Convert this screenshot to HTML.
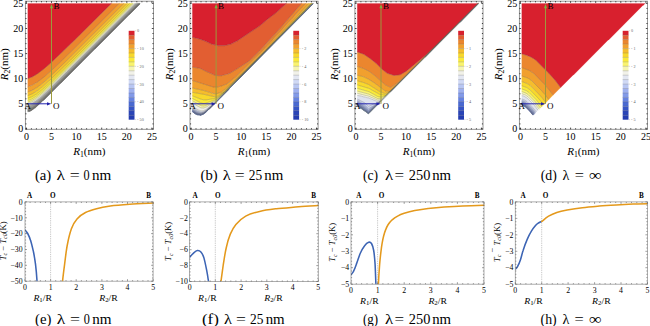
<!DOCTYPE html>
<html><head><meta charset="utf-8"><title>Figure</title>
<style>html,body{margin:0;padding:0;background:#fff;width:650px;height:326px;overflow:hidden}svg{display:block;font-family:"Liberation Serif",serif}</style>
</head><body><svg width="650" height="326" viewBox="0 0 650 326" font-family='&quot;Liberation Serif&quot;, serif'><clipPath id="tc0"><rect x="25.9" y="1.7" width="127.1" height="127.1"/></clipPath><g clip-path="url(#tc0)"><path d="M28.2 111.6L29 111.2L29.8 111.2L31.3 110.4L33.3 108.8L33.6 108.8L34.8 107.7L35.2 107.7L37.5 105.3L35.6 107L31.3 110L27.8 111.3L27.8 111.6ZM37.9 105.3L41 102.1L37.5 105.3ZM43 100.6L52.3 91.1L42.6 100.6ZM60.5 83.3L81.5 61.9L60.2 83.3ZM94.7 49L116.1 27.3L94.4 49ZM129.3 14.4L140.2 3.4L137.3 6.2L129 14.4Z" fill="#6e6e66" stroke="#6e6e66" stroke-width="0.25"/><path d="M28.2 111.2L30.9 110.2L34 108.2L37.9 105L43.8 99.5L140 3.4L139.7 3.4L136.3 6.7L44.1 98.7L35.2 106.9L31.1 109.6L27.8 110.8L27.8 111.3Z" fill="#75756d" stroke="#75756d" stroke-width="0.25"/><path d="M27.8 110.8L30.9 109.7L34 107.7L37.9 104.5L43.8 99.1L139.7 3.4L139.3 3.4L44.5 97.9L34.8 106.7L30.9 109.2L27.8 110.3Z" fill="#7f7f77" stroke="#7f7f77" stroke-width="0.25"/><path d="M28.2 110.2L30.9 109.2L34.4 107L38.3 103.7L44.5 97.9L139.3 3.4L138.9 3.4L45 97L35.6 105.5L31.7 108.2L27.8 109.7L27.8 110.3Z" fill="#898981" stroke="#898981" stroke-width="0.25"/><path d="M28.2 109.6L31.3 108.4L34.8 106.1L39.1 102.6L44.9 97.1L138.9 3.4L138.4 3.4L45.7 95.9L35.6 104.9L31.7 107.5L27.8 109.1L27.8 109.7Z" fill="#93938b" stroke="#93938b" stroke-width="0.25"/><path d="M28.2 109L31.7 107.5L35.1 105.3L39.5 101.7L45.3 96.2L138.4 3.4L137.9 3.4L46.5 94.6L36.4 103.7L31.7 106.9L27.8 108.5L27.8 109.1Z" fill="#9d9d95" stroke="#9d9d95" stroke-width="0.25"/><path d="M27.9 108.4L30.9 107.3L35.2 104.6L39.6 101L46.1 94.9L137.9 3.4L137.3 3.4L46.5 93.9L36.4 103L31.7 106.1L27.8 107.7Z" fill="#a6a69e" stroke="#a6a69e" stroke-width="0.25"/><path d="M28 107.7L31.7 106.1L35.6 103.6L40.3 99.7L46.5 93.9L137.3 3.4L136.7 3.4L47.5 92.3L36.9 101.8L31.7 105.3L27.8 106.9L27.8 107.7Z" fill="#b0b0a8" stroke="#b0b0a8" stroke-width="0.25"/><path d="M27.8 106.9L31.3 105.5L35.4 102.9L40.6 98.6L47.3 92.5L136.6 3.4L136 3.4L48.3 90.7L37.1 100.7L32.1 104.2L27.8 105.9Z" fill="#babab2" stroke="#babab2" stroke-width="0.25"/><path d="M28.2 105.8L32.1 104.2L36.3 101.4L41.4 97.1L48.4 90.6L135.9 3.4L135.2 3.4L49 89.2L41.8 95.9L36 100.6L31.7 103.3L27.8 104.9L27.8 105.9Z" fill="#c4c4bc" stroke="#c4c4bc" stroke-width="0.25"/><path d="M28.2 104.8L31.7 103.3L36 100.6L41.4 96.1L48.4 89.7L135.1 3.4L134.4 3.4L134.1 3.4L49.5 87.6L41.8 94.7L36.4 99.1L31.7 102.1L27.8 103.6L27.8 104.9Z" fill="#f1f1e9" stroke="#f1f1e9" stroke-width="0.25"/><path d="M28.2 103.5L32.1 101.9L36.4 99.1L41.8 94.7L48.7 88.4L66.7 70.7L134.1 3.4L133.6 3.4L132.9 3.4L68.3 67.9L49.9 86L42.6 92.7L36.8 97.5L31.9 100.6L27.8 102.2L27.8 103.6Z" fill="#f6f5b3" stroke="#f6f5b3" stroke-width="0.25"/><path d="M27.9 102.1L31.9 100.6L36.4 97.8L41.8 93.4L48.8 87L94.7 41.6L132.9 3.4L132.4 3.4L131.4 3.4L69.6 65.2L50 84.4L42.6 91.1L36.8 95.8L32.1 98.8L27.8 100.4Z" fill="#f9f36f" stroke="#f9f36f" stroke-width="0.25"/><path d="M28.2 100.3L32.4 98.6L36.8 95.8L42.6 91.1L50 84.4L69.6 65.2L131.4 3.4L130.9 3.4L129.6 3.4L71 62L50.8 81.7L43 88.8L37.1 93.5L32.1 96.6L27.8 98.3L27.8 100.4Z" fill="#faea3a" stroke="#faea3a" stroke-width="0.25"/><path d="M28.1 98.2L32.1 96.6L37.1 93.5L43 88.8L50.4 82.1L70.6 62.4L129.6 3.4L128.9 3.4L127.3 3.4L69 61.6L48.2 81.7L41.4 87.6L36.4 91.4L31.7 94.1L27.8 95.6L27.8 98.3Z" fill="#f8d82c" stroke="#f8d82c" stroke-width="0.25"/><path d="M28.2 95.5L32.5 93.7L37.5 90.6L43.7 85.6L51.1 79L71 59.7L127.3 3.4L126.6 3.4L124.1 3.4L68.9 58.5L48 78.5L41.5 84.1L36.4 87.8L32.1 90.4L27.8 92L27.8 95.6Z" fill="#f5bd2d" stroke="#f5bd2d" stroke-width="0.25"/><path d="M28.1 91.9L32.9 90L37.9 86.8L43.9 82.1L51.8 75L66.9 60.4L95.8 31.7L124.1 3.4L123.5 3.4L119.4 3.4L68.1 54.5L55.9 66.3L47.2 74.2L41.1 79.3L36.1 82.9L31.7 85.4L27.8 86.9L27.8 92Z" fill="#f1a02e" stroke="#f1a02e" stroke-width="0.25"/><path d="M28 86.8L32.8 84.8L37.9 81.7L44.1 76.9L51.9 70L64.1 58.5L84 38.8L119.4 3.4L118.8 3.4L111.4 3.4L69.9 44.7L50.8 62.8L43.5 69.1L37.5 73.6L32.5 76.7L27.8 78.6L27.8 86.9Z" fill="#eb862e" stroke="#eb862e" stroke-width="0.25"/><path d="M27.9 78.5L32.5 76.7L37.8 73.4L44 68.7L51.2 62.4L74.7 40L111.4 3.4L111.1 3.4L27.8 3.4Z" fill="#d8202e" stroke="#d8202e" stroke-width="0.25"/><path d="M27.8 111.3L29.8 110.7L32.1 109.5L37.5 105.3M37.5 105.3L41.9 101.3M42.6 100.6L55.7 87.7M60.2 83.3L88.6 54.8M94.4 49L123.3 20.1M129 14.4L140 3.4M27.8 110.8L30.5 109.9L33.6 108L37.5 104.9L43.4 99.5L139.7 3.4M27.8 110.3L30.9 109.2L34 107.2L37.9 104.1L43.8 98.7L139.3 3.4M27.8 109.7L31.2 108.4L34.4 106.4L44.1 97.9L138.9 3.4M27.8 109.1L31.3 107.8L34.6 105.7L39.1 102L44.9 96.6L138.4 3.4M27.8 108.5L30.9 107.3L34.8 104.9L39.1 101.4L45.1 95.9L137.9 3.4M27.8 107.7L31.3 106.3L35.2 103.9L39.5 100.4L45.3 95.1L137.3 3.4M27.8 106.9L31 105.7L34.8 103.3L39.9 99.3L46.1 93.6L136.6 3.4M27.8 105.9L31.3 104.6L35.2 102.1L40.3 98.1L46.9 92.1L135.9 3.4M27.8 104.9L31.7 103.3L35.6 100.9L40.4 97L46.9 91.1L65.8 72.6L135.1 3.4M27.8 103.6L31.7 102.1L36 99.4L41.4 95.1L47.9 89.2L66 71.5L134.1 3.4M27.8 102.2L31.7 100.7L36.3 97.8L41.4 93.7L48.2 87.6L66.7 69.5L132.9 3.4M27.8 100.4L31.7 99L36.4 96.1L41.8 91.8L48.8 85.5L68.4 66.3L131.4 3.4M27.8 98.3L32.1 96.6L36.8 93.8L42.6 89.2L49.6 82.9L69.8 63.2L129.6 3.4M27.8 95.6L32.1 93.9L36.8 91.1L42.6 86.6L50 80L70.6 60.1L127.3 3.4M27.8 92L32.1 90.3L37.3 87.2L43.4 82.5L50.5 76.2L70.9 56.5L124.1 3.4M27.8 86.9L32.1 85.2L37.3 82.1L43.4 77.5L50.8 71.1L71.3 51.4L119.4 3.4M27.8 78.6L32.5 76.7L37.5 73.6L43.5 69.1L50.8 62.8L69.9 44.7L111.4 3.4" fill="none" stroke="#505050" stroke-opacity="0.45" stroke-width="0.55"/><path d="M28.8 111.6L31.3 110.6L33.3 109L33.6 109L34.8 107.9L35.2 107.9L42.6 100.8L43 100.8L139.8 4" fill="none" stroke="#6a6a6a" stroke-width="0.8" stroke-linejoin="round"/></g><line x1="51.5" y1="103.8" x2="51.5" y2="6.4" stroke="#9c9a3c" stroke-width="1"/><path d="M51.5 4 l-1.6 4.2 h3.2z" fill="#7cb040"/><line x1="26.4" y1="103.8" x2="48.5" y2="103.8" stroke="#2626b0" stroke-width="1"/><path d="M51.2 103.8 l-4.2 -1.6 v3.2z" fill="#2020a8"/><rect x="25.4" y="1.2" width="128.1" height="128.1" fill="none" stroke="#8a8a8a" stroke-width="0.9"/><path d="M26.4 129.3v-1.7M26.4 1.2v1.7M25.4 128.9h1.7M153.5 128.9h-1.7M31.4 129.3v-1.1M31.4 1.2v1.1M25.4 123.9h1.1M153.5 123.9h-1.1M36.4 129.3v-1.1M36.4 1.2v1.1M25.4 118.9h1.1M153.5 118.9h-1.1M41.5 129.3v-1.1M41.5 1.2v1.1M25.4 113.8h1.1M153.5 113.8h-1.1M46.5 129.3v-1.1M46.5 1.2v1.1M25.4 108.8h1.1M153.5 108.8h-1.1M51.5 129.3v-1.7M51.5 1.2v1.7M25.4 103.8h1.7M153.5 103.8h-1.7M56.5 129.3v-1.1M56.5 1.2v1.1M25.4 98.8h1.1M153.5 98.8h-1.1M61.5 129.3v-1.1M61.5 1.2v1.1M25.4 93.8h1.1M153.5 93.8h-1.1M66.6 129.3v-1.1M66.6 1.2v1.1M25.4 88.7h1.1M153.5 88.7h-1.1M71.6 129.3v-1.1M71.6 1.2v1.1M25.4 83.7h1.1M153.5 83.7h-1.1M76.6 129.3v-1.7M76.6 1.2v1.7M25.4 78.7h1.7M153.5 78.7h-1.7M81.6 129.3v-1.1M81.6 1.2v1.1M25.4 73.7h1.1M153.5 73.7h-1.1M86.6 129.3v-1.1M86.6 1.2v1.1M25.4 68.7h1.1M153.5 68.7h-1.1M91.7 129.3v-1.1M91.7 1.2v1.1M25.4 63.6h1.1M153.5 63.6h-1.1M96.7 129.3v-1.1M96.7 1.2v1.1M25.4 58.6h1.1M153.5 58.6h-1.1M101.7 129.3v-1.7M101.7 1.2v1.7M25.4 53.6h1.7M153.5 53.6h-1.7M106.7 129.3v-1.1M106.7 1.2v1.1M25.4 48.6h1.1M153.5 48.6h-1.1M111.7 129.3v-1.1M111.7 1.2v1.1M25.4 43.6h1.1M153.5 43.6h-1.1M116.8 129.3v-1.1M116.8 1.2v1.1M25.4 38.5h1.1M153.5 38.5h-1.1M121.8 129.3v-1.1M121.8 1.2v1.1M25.4 33.5h1.1M153.5 33.5h-1.1M126.8 129.3v-1.7M126.8 1.2v1.7M25.4 28.5h1.7M153.5 28.5h-1.7M131.8 129.3v-1.1M131.8 1.2v1.1M25.4 23.5h1.1M153.5 23.5h-1.1M136.8 129.3v-1.1M136.8 1.2v1.1M25.4 18.5h1.1M153.5 18.5h-1.1M141.9 129.3v-1.1M141.9 1.2v1.1M25.4 13.4h1.1M153.5 13.4h-1.1M146.9 129.3v-1.1M146.9 1.2v1.1M25.4 8.4h1.1M153.5 8.4h-1.1M151.9 129.3v-1.7M151.9 1.2v1.7M25.4 3.4h1.7M153.5 3.4h-1.7" stroke="#000" stroke-width="0.7"/><text x="26.4" y="140.2" font-size="10" text-anchor="middle" >0</text><text x="23.2" y="132.3" font-size="10" text-anchor="end" >0</text><text x="51.5" y="140.2" font-size="10" text-anchor="middle" >5</text><text x="23.2" y="107.2" font-size="10" text-anchor="end" >5</text><text x="76.6" y="140.2" font-size="10" text-anchor="middle" >10</text><text x="23.2" y="82.1" font-size="10" text-anchor="end" >10</text><text x="101.7" y="140.2" font-size="10" text-anchor="middle" >15</text><text x="23.2" y="57" font-size="10" text-anchor="end" >15</text><text x="126.8" y="140.2" font-size="10" text-anchor="middle" >20</text><text x="23.2" y="31.9" font-size="10" text-anchor="end" >20</text><text x="151.9" y="140.2" font-size="10" text-anchor="middle" >25</text><text x="23.2" y="6.8" font-size="10" text-anchor="end" >25</text><text x="73.2" y="155" font-size="11" textLength="32.4" lengthAdjust="spacingAndGlyphs"><tspan font-style="italic">R</tspan><tspan font-size="7.6" dy="2">1</tspan><tspan dy="-2">(nm)</tspan></text><text transform="translate(8.4,64.3) rotate(-90)" font-size="11" textLength="32" lengthAdjust="spacingAndGlyphs" x="-16"><tspan font-style="italic">R</tspan><tspan font-size="7.6" dy="2">2</tspan><tspan dy="-2">(nm)</tspan></text><text x="27.8" y="108.7" font-size="9" text-anchor="middle" >A</text><text x="56.2" y="108.9" font-size="9" text-anchor="middle" >O</text><text x="56.4" y="8.9" font-size="9" text-anchor="middle" >B</text><rect x="128.7" y="30.8" width="5.8" height="4.5" fill="#d8202e"/><rect x="128.7" y="35.2" width="5.8" height="4.5" fill="#e25e32"/><rect x="128.7" y="39.7" width="5.8" height="4.5" fill="#eb862e"/><rect x="128.7" y="44.1" width="5.8" height="4.5" fill="#f1a02e"/><rect x="128.7" y="48.6" width="5.8" height="4.5" fill="#f5bd2d"/><rect x="128.7" y="53" width="5.8" height="4.5" fill="#f8d82c"/><rect x="128.7" y="57.4" width="5.8" height="4.5" fill="#faea3a"/><rect x="128.7" y="61.9" width="5.8" height="4.5" fill="#f9f36f"/><rect x="128.7" y="66.3" width="5.8" height="4.5" fill="#f6f5b3"/><rect x="128.7" y="70.8" width="5.8" height="4.5" fill="#f1f1e9"/><rect x="128.7" y="75.2" width="5.8" height="4.5" fill="#e3e7f2"/><rect x="128.7" y="79.6" width="5.8" height="4.5" fill="#d0d9f5"/><rect x="128.7" y="84.1" width="5.8" height="4.5" fill="#b8c6f3"/><rect x="128.7" y="88.5" width="5.8" height="4.5" fill="#9eb0ef"/><rect x="128.7" y="93" width="5.8" height="4.5" fill="#829ae9"/><rect x="128.7" y="97.4" width="5.8" height="4.5" fill="#6682e0"/><rect x="128.7" y="101.8" width="5.8" height="4.5" fill="#4a69d2"/><rect x="128.7" y="106.3" width="5.8" height="4.5" fill="#3654c5"/><rect x="128.7" y="110.7" width="5.8" height="4.5" fill="#2a44b7"/><rect x="128.7" y="115.2" width="5.8" height="4.5" fill="#243cb0"/><path d="M128.7 35.2h5.8M128.7 39.7h5.8M128.7 44.1h5.8M128.7 48.6h5.8M128.7 53h5.8M128.7 57.4h5.8M128.7 61.9h5.8M128.7 66.3h5.8M128.7 70.8h5.8M128.7 75.2h5.8M128.7 79.6h5.8M128.7 84.1h5.8M128.7 88.5h5.8M128.7 93h5.8M128.7 97.4h5.8M128.7 101.8h5.8M128.7 106.3h5.8M128.7 110.7h5.8M128.7 115.2h5.8" stroke="#666" stroke-opacity="0.55" stroke-width="0.5"/><path d="M134.9 30.8h1" stroke="#999" stroke-width="0.4"/><text x="137.1" y="32.2" font-size="4.2" text-anchor="start" fill="#666">0</text><path d="M134.9 48.6h1" stroke="#999" stroke-width="0.4"/><text x="137.1" y="50" font-size="4.2" text-anchor="start" fill="#666">- 10</text><path d="M134.9 66.3h1" stroke="#999" stroke-width="0.4"/><text x="137.1" y="67.7" font-size="4.2" text-anchor="start" fill="#666">- 20</text><path d="M134.9 84.1h1" stroke="#999" stroke-width="0.4"/><text x="137.1" y="85.5" font-size="4.2" text-anchor="start" fill="#666">- 30</text><path d="M134.9 101.8h1" stroke="#999" stroke-width="0.4"/><text x="137.1" y="103.2" font-size="4.2" text-anchor="start" fill="#666">- 40</text><path d="M134.9 119.6h1" stroke="#999" stroke-width="0.4"/><text x="137.1" y="121" font-size="4.2" text-anchor="start" fill="#666">- 50</text><clipPath id="tc1"><rect x="190.5" y="1.7" width="127.1" height="127.1"/></clipPath><g clip-path="url(#tc1)"><path d="M199.8 115.1L201 115L199.6 114.9ZM197.5 114.7L198.2 114.7L197.9 114.6L197.1 114.4ZM196.3 114.3L196.7 114.2L195.9 114ZM202.9 114.3L203.1 114.1L202.9 114.2L202.6 114.3ZM195.5 114L195.9 114L193.2 112.1L192.4 111.7L192.4 112L193.6 112.4ZM205.2 112.8L205.6 112.4L205.2 112.7Z" fill="#6070b5" stroke="#6070b5" stroke-width="0.25"/><path d="M199.8 114.9L201 115L202.1 114.3L201 114.8L198.6 114.5L195.9 113.6L194 112.2L192.4 111.3L192.4 111.7L195.9 114L198.2 114.7ZM202.5 114.3L203.7 113.8L204.7 113L202.1 114.3Z" fill="#6577bc" stroke="#6577bc" stroke-width="0.25"/><path d="M201 114.8L203.7 113.7L206 112L208.3 109.7L206 111.8L203.7 113.5L201.4 114.4L200.6 114.5L198.6 114.2L196.3 113.4L193.2 111.3L192.4 110.9L192.4 111.3L196.3 113.8L198.6 114.5Z" fill="#6e80c2" stroke="#6e80c2" stroke-width="0.25"/><path d="M199.8 114.4L201.5 114.3L203.7 113.5L205.2 112.4L215.2 103.1L209.1 108.7L206 111.6L203.7 113.3L201 114.2L198.6 113.8L196.3 113L192.4 110.4L192.4 110.9L195.9 113.2L198.6 114.2Z" fill="#798bca" stroke="#798bca" stroke-width="0.25"/><path d="M199.4 114L201 114.2L203 113.6L206 111.6L215.2 103.1L222.2 95.9L216.1 102.1L206 111.4L203.7 113L201 113.8L198.6 113.4L195.9 112.3L192.4 109.8L192.4 110.4L195.9 112.8Z" fill="#8698d3" stroke="#8698d3" stroke-width="0.25"/><path d="M199.8 113.6L201 113.8L203.3 113.2L206 111.4L216.1 102.1L222.7 95.2L216.1 102L206 111.1L203.7 112.6L201 113.4L198.6 112.9L195.9 111.7L192.4 109.2L192.4 109.8L195.9 112.3L198.6 113.4Z" fill="#98a7dc" stroke="#98a7dc" stroke-width="0.25"/><path d="M200.2 113.2L201 113.4L203.3 112.8L206 111.1L216.1 102L241.1 76.2L306.4 10.1L241.1 76.2L216.5 101.4L206 110.8L203.7 112.2L201 112.8L198.6 112.2L196.3 111.1L192.4 108.4L192.4 109.2L195.9 111.7L198.6 112.9Z" fill="#aebae5" stroke="#aebae5" stroke-width="0.25"/><path d="M201 112.8L203.7 112.2L206 110.8L216.1 101.8L306.4 10L216.5 101.2L206.8 109.6L203.7 111.6L201 112.1L196.3 110.1L192.4 107.4L192.4 108.4L195.9 110.9L198.6 112.2Z" fill="#c7cfec" stroke="#c7cfec" stroke-width="0.25"/><path d="M201 112.1L203.7 111.6L206 110.3L216.5 101.2L306 10.2L216.1 101.3L206 109.5L203.3 110.7L201 110.9L198.6 110L195.9 108.5L192.4 106L192.4 107.4L195.9 109.9L198.6 111.3Z" fill="#dfe3ef" stroke="#dfe3ef" stroke-width="0.25"/><path d="M201 110.9L203.7 110.7L206 109.5L216.5 101L312.6 3.4L312.2 3.4L305.7 10.1L223.9 93.3L216.1 100.6L206.8 106.8L203.7 108L201 107.9L195.9 105.2L193.6 103.3L192.4 102.9L192.4 106L196.3 108.7Z" fill="#f1f1e9" stroke="#f1f1e9" stroke-width="0.25"/><path d="M201 107.9L203.7 108L206 107.2L215.7 100.9L218.9 98.1L223.9 93.3L264.4 52.3L303.8 12.1L312.2 3.4L305.2 10.3L264.4 52.1L223.9 92.9L216.5 99.7L206 105.5L203.7 106.1L201 105.7L192.4 100.8L192.4 102.9L193.6 103.3L195.9 105.2Z" fill="#f6f5b3" stroke="#f6f5b3" stroke-width="0.25"/><path d="M201.4 105.8L203.7 106.1L206 105.5L216.1 99.9L223.5 93.3L264.4 52.1L312 3.4L311.7 3.4L304.8 10.4L264.4 51.9L223.9 92.6L216.5 99.1L206 103.2L203.7 103.5L201 103L192.4 98.5L192.4 100.8L198.6 104.5Z" fill="#f9f36f" stroke="#f9f36f" stroke-width="0.25"/><path d="M202.9 103.4L206 103.2L216.1 99.3L223.5 93L264.4 51.9L311.7 3.4L311.3 3.4L304.1 10.9L264.4 51.8L241 75.2L223.9 92.2L216.5 98.2L206 99.9L203.7 99.8L201 99.2L192.4 95.8L192.4 98.5L201 103Z" fill="#faea3a" stroke="#faea3a" stroke-width="0.25"/><path d="M203.7 99.8L206 99.9L216.5 98.2L223.5 92.6L264.4 51.8L311.3 3.4L310.8 3.4L302.9 11.7L264 51.8L241.3 74.6L223.2 92.3L216.5 97L216.1 97.1L203.8 94.3L192.4 92.3L192.4 95.8L201 99.2Z" fill="#f8d82c" stroke="#f8d82c" stroke-width="0.25"/><path d="M216.1 97.1L216.5 97L223.6 91.9L248 67.9L269.4 46.3L310.8 3.4L309 3.4L295.6 17.6L264 51.2L231.3 83.7L221.6 92L216.1 93.9L213 93.4L204.1 90.6L192.4 88L192.4 92.3L203.8 94.3Z" fill="#f5bd2d" stroke="#f5bd2d" stroke-width="0.25"/><path d="M213.8 93.5L216.5 93.9L221.6 92L231.3 83.7L264.4 50.8L309 3.4L305.5 3.4L293.6 16.4L261.6 51.3L236.4 76L227 83.8L220.8 86.2L216.5 87.2L213.4 87L192.4 80.5L192.4 88L204.1 90.6Z" fill="#f1a02e" stroke="#f1a02e" stroke-width="0.25"/><path d="M216.1 87.2L221.6 86L227 83.8L236.4 76L262 50.9L305.5 3.4L301.4 3.4L288.3 18.7L279.9 28.6L262.8 47.5L259.5 51L248.8 61.2L236.7 69.1L229 73.7L221.2 75.7L215.7 75.5L207.6 72.1L200.2 68.4L192.4 67.1L192.4 80.5L213 87Z" fill="#eb862e" stroke="#eb862e" stroke-width="0.25"/><path d="M215.7 75.5L221.2 75.7L229.4 73.5L236.7 69.1L248.8 61.2L259.7 50.8L279.9 28.6L301.4 3.4L286.4 3.4L277.7 11.3L267.9 18.9L260.1 25.6L237.5 40.7L230.9 44.1L224.7 45.6L218.1 45.6L211.5 44L205.2 41.1L198.6 38.7L192.4 37.3L192.4 67.1L200.2 68.4L207.6 72.1Z" fill="#e25e32" stroke="#e25e32" stroke-width="0.25"/><path d="M218.1 45.6L224.7 45.6L230.9 44.1L237.5 40.7L260.1 25.6L267.9 18.9L276 12.8L286.4 3.4L260.9 3.4L192.4 3.4L192.4 37.3L198.6 38.7L205.2 41.1L211.5 44Z" fill="#d8202e" stroke="#d8202e" stroke-width="0.25"/><path d="M199.6 114.9L201.2 114.9M197.1 114.4L198.2 114.7M201.7 114.7L201.8 114.7M195.9 114L197 114.3M202.6 114.3L203.1 114.1M203.5 114L204.1 113.5M205.1 112.8L205.6 112.4M192.4 111.7L195.9 114M209 109.2L210.8 107.5M227.3 90.9L228.6 89.5M202.1 114.3L204.7 113M204.9 112.8L206.2 111.8M192.4 111.3L195.9 113.6L198.2 114.4L201 114.8L202.1 114.3M208.9 109.2L212.4 105.9M225.6 92.6L228.6 89.4M239.9 77.7L249.1 68.4M192.4 110.9L196.3 113.4L198.6 114.2L201 114.5L203.7 113.5L208.3 109.7M208.8 109.2L213.9 104.4M223.7 94.5L228.6 89.4M238.3 79.4L258.2 59.2M301.3 15.7L313.3 3.4M192.4 110.4L196.3 113L198.6 113.8L201.4 114.1L203.7 113.3L206 111.6L215.2 103.1M220.1 98.2L228.6 89.3M236.4 81.3L272.2 45M281 36.2L313.3 3.4M192.4 109.8L195.9 112.3L198.6 113.4L201 113.8L203.7 113L206 111.4L216.1 102.1L228.6 89.3M234 83.7L313.2 3.4M192.4 109.2L195.9 111.7L198.6 112.9L201 113.4L203.7 112.6L206 111.1L216.1 102L228.6 89.2M231 86.7L313.1 3.4M192.4 108.4L196.3 111.1L198.6 112.2L201 112.8L203.7 112.2L206.4 110.4L216.5 101.4L241.1 76.2L313 3.4M192.4 107.4L195.9 109.9L198.6 111.3L201 112.1L203.3 111.7L206 110.3L216.1 101.6L312.8 3.4M192.4 106L195.9 108.5L198.6 110L201 110.9L203.3 110.7L206 109.5L216.1 101.3L312.7 3.4M192.4 102.9L193.6 103.3L195.9 105.2L201 107.9L203.7 108L206.8 106.8L216.1 100.6L223.9 93.3L312.2 3.4M192.4 100.8L201 105.7L203.7 106.1L206 105.5L216.5 99.7L223.9 92.9L264.3 52.2L312 3.4M192.4 98.5L201 103L203.7 103.5L206 103.2L216.5 99.1L223.9 92.6L241.4 75L264.4 51.9L311.7 3.4M192.4 95.8L201 99.2L203.7 99.8L206 99.9L216.5 98.2L223.9 92.2L241.4 74.8L264.4 51.8L311.3 3.4M192.4 92.3L203.8 94.3L216.1 97.1L216.5 97L223.2 92.3L241.3 74.6L264.4 51.5L310.8 3.4M192.4 88L204.1 90.6L213 93.4L216.1 93.9L221.6 92L231.3 83.7L264 51.2L309 3.4M192.4 80.5L213.4 87L216.5 87.2L220.8 86.2L227 83.8L236.4 76L262 51L305.5 3.4M192.4 67.1L200.2 68.4L207.6 72.1L215.7 75.5L221.2 75.7L229 73.7L234.8 70.3L248.8 61.2L259.7 50.8L279.9 28.6L301.4 3.4M192.4 37.3L198.6 38.7L205.2 41.1L211.5 44L218.1 45.6L224.7 45.6L230.9 44.1L237.5 40.7L260.1 25.6L267.9 18.9L276 12.8L286.4 3.4" fill="none" stroke="#505050" stroke-opacity="0.45" stroke-width="0.55"/><path d="M193.6 112.6L196.3 114.5L197.1 114.5L197.5 114.9L199.4 114.9L199.8 115.3L201 115.3L202.1 114.5L202.9 114.5L204.9 113L205.2 113L208.7 109.4L209.1 109.4L220.6 97.8L228.8 89.6L228.8 89.2L313 4" fill="none" stroke="#5c6a8c" stroke-width="0.8" stroke-linejoin="round"/></g><line x1="216.1" y1="103.8" x2="216.1" y2="6.4" stroke="#9c9a3c" stroke-width="1"/><path d="M216.1 4 l-1.6 4.2 h3.2z" fill="#7cb040"/><line x1="191" y1="103.8" x2="213.1" y2="103.8" stroke="#2626b0" stroke-width="1"/><path d="M215.8 103.8 l-4.2 -1.6 v3.2z" fill="#2020a8"/><rect x="190" y="1.2" width="128.1" height="128.1" fill="none" stroke="#8a8a8a" stroke-width="0.9"/><path d="M191 129.3v-1.7M191 1.2v1.7M190 128.9h1.7M318.1 128.9h-1.7M196 129.3v-1.1M196 1.2v1.1M190 123.9h1.1M318.1 123.9h-1.1M201 129.3v-1.1M201 1.2v1.1M190 118.9h1.1M318.1 118.9h-1.1M206.1 129.3v-1.1M206.1 1.2v1.1M190 113.8h1.1M318.1 113.8h-1.1M211.1 129.3v-1.1M211.1 1.2v1.1M190 108.8h1.1M318.1 108.8h-1.1M216.1 129.3v-1.7M216.1 1.2v1.7M190 103.8h1.7M318.1 103.8h-1.7M221.1 129.3v-1.1M221.1 1.2v1.1M190 98.8h1.1M318.1 98.8h-1.1M226.1 129.3v-1.1M226.1 1.2v1.1M190 93.8h1.1M318.1 93.8h-1.1M231.2 129.3v-1.1M231.2 1.2v1.1M190 88.7h1.1M318.1 88.7h-1.1M236.2 129.3v-1.1M236.2 1.2v1.1M190 83.7h1.1M318.1 83.7h-1.1M241.2 129.3v-1.7M241.2 1.2v1.7M190 78.7h1.7M318.1 78.7h-1.7M246.2 129.3v-1.1M246.2 1.2v1.1M190 73.7h1.1M318.1 73.7h-1.1M251.2 129.3v-1.1M251.2 1.2v1.1M190 68.7h1.1M318.1 68.7h-1.1M256.3 129.3v-1.1M256.3 1.2v1.1M190 63.6h1.1M318.1 63.6h-1.1M261.3 129.3v-1.1M261.3 1.2v1.1M190 58.6h1.1M318.1 58.6h-1.1M266.3 129.3v-1.7M266.3 1.2v1.7M190 53.6h1.7M318.1 53.6h-1.7M271.3 129.3v-1.1M271.3 1.2v1.1M190 48.6h1.1M318.1 48.6h-1.1M276.3 129.3v-1.1M276.3 1.2v1.1M190 43.6h1.1M318.1 43.6h-1.1M281.4 129.3v-1.1M281.4 1.2v1.1M190 38.5h1.1M318.1 38.5h-1.1M286.4 129.3v-1.1M286.4 1.2v1.1M190 33.5h1.1M318.1 33.5h-1.1M291.4 129.3v-1.7M291.4 1.2v1.7M190 28.5h1.7M318.1 28.5h-1.7M296.4 129.3v-1.1M296.4 1.2v1.1M190 23.5h1.1M318.1 23.5h-1.1M301.4 129.3v-1.1M301.4 1.2v1.1M190 18.5h1.1M318.1 18.5h-1.1M306.5 129.3v-1.1M306.5 1.2v1.1M190 13.4h1.1M318.1 13.4h-1.1M311.5 129.3v-1.1M311.5 1.2v1.1M190 8.4h1.1M318.1 8.4h-1.1M316.5 129.3v-1.7M316.5 1.2v1.7M190 3.4h1.7M318.1 3.4h-1.7" stroke="#000" stroke-width="0.7"/><text x="191" y="140.2" font-size="10" text-anchor="middle" >0</text><text x="187.8" y="132.3" font-size="10" text-anchor="end" >0</text><text x="216.1" y="140.2" font-size="10" text-anchor="middle" >5</text><text x="187.8" y="107.2" font-size="10" text-anchor="end" >5</text><text x="241.2" y="140.2" font-size="10" text-anchor="middle" >10</text><text x="187.8" y="82.1" font-size="10" text-anchor="end" >10</text><text x="266.3" y="140.2" font-size="10" text-anchor="middle" >15</text><text x="187.8" y="57" font-size="10" text-anchor="end" >15</text><text x="291.4" y="140.2" font-size="10" text-anchor="middle" >20</text><text x="187.8" y="31.9" font-size="10" text-anchor="end" >20</text><text x="316.5" y="140.2" font-size="10" text-anchor="middle" >25</text><text x="187.8" y="6.8" font-size="10" text-anchor="end" >25</text><text x="237.8" y="155" font-size="11" textLength="32.4" lengthAdjust="spacingAndGlyphs"><tspan font-style="italic">R</tspan><tspan font-size="7.6" dy="2">1</tspan><tspan dy="-2">(nm)</tspan></text><text transform="translate(173,64.3) rotate(-90)" font-size="11" textLength="32" lengthAdjust="spacingAndGlyphs" x="-16"><tspan font-style="italic">R</tspan><tspan font-size="7.6" dy="2">2</tspan><tspan dy="-2">(nm)</tspan></text><text x="192.4" y="108.7" font-size="9" text-anchor="middle" >A</text><text x="220.8" y="108.9" font-size="9" text-anchor="middle" >O</text><text x="221" y="8.9" font-size="9" text-anchor="middle" >B</text><rect x="293.3" y="30.8" width="5.8" height="4.5" fill="#d8202e"/><rect x="293.3" y="35.2" width="5.8" height="4.5" fill="#e25e32"/><rect x="293.3" y="39.7" width="5.8" height="4.5" fill="#eb862e"/><rect x="293.3" y="44.1" width="5.8" height="4.5" fill="#f1a02e"/><rect x="293.3" y="48.6" width="5.8" height="4.5" fill="#f5bd2d"/><rect x="293.3" y="53" width="5.8" height="4.5" fill="#f8d82c"/><rect x="293.3" y="57.4" width="5.8" height="4.5" fill="#faea3a"/><rect x="293.3" y="61.9" width="5.8" height="4.5" fill="#f9f36f"/><rect x="293.3" y="66.3" width="5.8" height="4.5" fill="#f6f5b3"/><rect x="293.3" y="70.8" width="5.8" height="4.5" fill="#f1f1e9"/><rect x="293.3" y="75.2" width="5.8" height="4.5" fill="#e3e7f2"/><rect x="293.3" y="79.6" width="5.8" height="4.5" fill="#d0d9f5"/><rect x="293.3" y="84.1" width="5.8" height="4.5" fill="#b8c6f3"/><rect x="293.3" y="88.5" width="5.8" height="4.5" fill="#9eb0ef"/><rect x="293.3" y="93" width="5.8" height="4.5" fill="#829ae9"/><rect x="293.3" y="97.4" width="5.8" height="4.5" fill="#6682e0"/><rect x="293.3" y="101.8" width="5.8" height="4.5" fill="#4a69d2"/><rect x="293.3" y="106.3" width="5.8" height="4.5" fill="#3654c5"/><rect x="293.3" y="110.7" width="5.8" height="4.5" fill="#2a44b7"/><rect x="293.3" y="115.2" width="5.8" height="4.5" fill="#243cb0"/><path d="M293.3 35.2h5.8M293.3 39.7h5.8M293.3 44.1h5.8M293.3 48.6h5.8M293.3 53h5.8M293.3 57.4h5.8M293.3 61.9h5.8M293.3 66.3h5.8M293.3 70.8h5.8M293.3 75.2h5.8M293.3 79.6h5.8M293.3 84.1h5.8M293.3 88.5h5.8M293.3 93h5.8M293.3 97.4h5.8M293.3 101.8h5.8M293.3 106.3h5.8M293.3 110.7h5.8M293.3 115.2h5.8" stroke="#666" stroke-opacity="0.55" stroke-width="0.5"/><path d="M299.5 48.6h1" stroke="#999" stroke-width="0.4"/><text x="301.7" y="50" font-size="4.2" text-anchor="start" fill="#666">- 2</text><path d="M299.5 66.3h1" stroke="#999" stroke-width="0.4"/><text x="301.7" y="67.7" font-size="4.2" text-anchor="start" fill="#666">- 4</text><path d="M299.5 84.1h1" stroke="#999" stroke-width="0.4"/><text x="301.7" y="85.5" font-size="4.2" text-anchor="start" fill="#666">- 6</text><path d="M299.5 101.8h1" stroke="#999" stroke-width="0.4"/><text x="301.7" y="103.2" font-size="4.2" text-anchor="start" fill="#666">- 8</text><path d="M299.5 119.6h1" stroke="#999" stroke-width="0.4"/><text x="301.7" y="121" font-size="4.2" text-anchor="start" fill="#666">- 10</text><clipPath id="tc2"><rect x="355.4" y="1.7" width="127.1" height="127.1"/></clipPath><g clip-path="url(#tc2)"><path d="M368.2 113.6L368.6 113.6L371.7 110.4L368.6 113.4L367.5 112.8ZM367 112.8L367.4 112.8L366.4 112ZM365.5 111.6L365.9 111.6L359.3 106.8L357.3 105.4L357.7 106.1L359.3 106.9L360.4 108L362 108.8L363.1 110L364.7 110.8Z" fill="#5d6cb2" stroke="#5d6cb2" stroke-width="0.25"/><path d="M368.2 113.4L368.6 113.4L377.1 104.9L368.6 113.2L366.4 111.6L357.3 105L357.3 105.4Z" fill="#6070b5" stroke="#6070b5" stroke-width="0.25"/><path d="M368.6 113.2L379 103L368.4 112.8L360.4 106.6L357.3 104.5L357.3 105Z" fill="#6577bc" stroke="#6577bc" stroke-width="0.25"/><path d="M368.6 112.8L380.2 101.8L369.4 111.6L368.6 112.4L368.2 112.2L363.9 108.5L357.3 103.9L357.3 104.5Z" fill="#6e81c2" stroke="#6e81c2" stroke-width="0.25"/><path d="M368.6 112.4L380.9 101.1L370.1 110.4L368.6 111.8L368.2 111.7L363.9 107.8L357.3 103.3L357.3 103.9L363.5 108.2Z" fill="#798bca" stroke="#798bca" stroke-width="0.25"/><path d="M368.2 111.7L368.6 111.8L380.9 101.1L370.5 109.4L368.6 111.1L363.9 106.9L357.3 102.5L357.3 103.3L363.9 107.8Z" fill="#8698d3" stroke="#8698d3" stroke-width="0.25"/><path d="M368.2 110.9L368.6 111.1L381.3 100.7L370.5 108.6L368.6 110.1L364.3 106.2L357.3 101.6L357.3 102.5L364.3 107.2Z" fill="#98a7dc" stroke="#98a7dc" stroke-width="0.25"/><path d="M368.6 110.1L377.9 103.3L382 100L377.9 103L370.1 107.6L368.6 108.7L366.6 106.6L364.3 104.7L357.3 100.5L357.3 101.6L364.3 106.2Z" fill="#aebbe5" stroke="#aebbe5" stroke-width="0.25"/><path d="M368.6 108.7L374 105.1L377.9 103L382 100L383.5 98.4L382.1 99.8L377.9 102.5L370.9 105.1L368.6 106.2L366.6 104.2L364.7 102.8L357.3 99L357.3 100.5L364.3 104.7L366.6 106.6Z" fill="#c7d0ec" stroke="#c7d0ec" stroke-width="0.25"/><path d="M368.6 106.2L373.6 104L377.9 102.5L381.5 100.2L388 93.9L381.8 99.8L378.3 101.3L377.1 101.3L376.5 101L368.2 97.8L367 97.8L366.6 97.4L365.5 97.4L365.1 97L363.9 97L363.1 96.6L362 96.6L361.6 96.2L357.3 95.4L357.3 99L364.7 102.8L366.6 104.2Z" fill="#dfe3ef" stroke="#dfe3ef" stroke-width="0.25"/><path d="M376.8 101.1L378.3 101.3L381.8 99.8L390.2 91.7L385.3 96.3L381.8 99.2L377.9 100.2L373.6 98.3L368.6 96.2L357.3 93.3L357.3 95.4L361.6 96.2L362 96.6L363.1 96.6L363.9 97L365.1 97L365.5 97.4L366.6 97.4L367 97.8L368.2 97.8Z" fill="#f1f1e9" stroke="#f1f1e9" stroke-width="0.25"/><path d="M377.9 100.2L381.8 99.2L385.3 96.3L407.3 74.6L391.1 90.7L385.3 96L381.8 98.2L377.9 98.7L368.6 94.1L357.3 91.1L357.3 93.3L368.6 96.2Z" fill="#f6f5b3" stroke="#f6f5b3" stroke-width="0.25"/><path d="M377.9 98.7L382.2 98L385.3 96L391.1 90.7L440.9 40.9L394.3 87.6L391 90.7L385.3 95.7L381.8 96.8L379.9 96.9L377.9 96.6L369 91.7L357.3 88.3L357.3 91.1L368.6 94.1Z" fill="#f9f36f" stroke="#f9f36f" stroke-width="0.25"/><path d="M378.3 96.7L379.9 96.9L381.8 96.8L385.3 95.7L391 90.7L443.3 38.5L391.1 90.5L385.3 95.1L379.9 94.5L369 88.4L357.3 84.9L357.3 88.3L369 91.7Z" fill="#faea3a" stroke="#faea3a" stroke-width="0.25"/><path d="M384.1 95.1L385.3 95.1L391.1 90.5L458.7 23.1L406.7 75L391.1 90.4L389.2 91.9L385.3 93.7L379.9 91.6L368.6 84.5L363.1 82.4L357.3 80.8L357.3 84.9L369 88.4L379.9 94.5Z" fill="#f8d82c" stroke="#f8d82c" stroke-width="0.25"/><path d="M384.9 93.5L385.3 93.7L389.2 91.9L391.1 90.4L456.5 25.1L397 84.4L390.8 90.3L389.2 91.5L385.3 91L374.4 82.9L368.6 79.2L363.1 76.6L357.3 75.2L357.3 80.8L363.1 82.4L368.6 84.5L379.9 91.6Z" fill="#f5bd2d" stroke="#f5bd2d" stroke-width="0.25"/><path d="M386.5 91.1L389.2 91.5L390.8 90.3L414.9 66.7L470.5 11.3L478.2 3.4L453 28.5L417.2 64L400.5 80.1L397.8 82.5L391.1 87.4L390.8 87.5L385.3 84.8L374.4 75.3L369 71.2L363.1 68.3L357.3 66.3L357.3 75.2L363.1 76.6L368.6 79.2L374.4 82.9L385.3 91Z" fill="#f1a02e" stroke="#f1a02e" stroke-width="0.25"/><path d="M390.4 87.3L390.8 87.5L391.9 86.8L397.8 82.5L400.5 80.1L432 49.4L478.2 3.4L449.9 31.4L425 55.8L406.7 70.9L400.1 74.8L393.9 75.4L387.3 73.3L381.8 69L376.4 63.5L369.8 58.2L363.5 54.1L357.3 51.9L357.3 66.3L363.1 68.3L369 71.2L374.4 75.3L385.3 84.8Z" fill="#eb862e" stroke="#eb862e" stroke-width="0.25"/><path d="M392.7 75.1L393.9 75.4L400.1 74.8L406.3 71.2L424.6 56.1L436.3 44.9L478 3.4L442.9 3.4L357.3 3.4L357.3 51.9L363.9 54.3L370.1 58.5L376.4 63.5L381.8 69L387.3 73.3Z" fill="#d8202e" stroke="#d8202e" stroke-width="0.25"/><path d="M367.5 112.8L368.6 113.4L372.9 109.2M365.9 111.6L367.4 112.8M357.3 105.4L365.9 111.6M390.7 91.5L391.6 90.7M425.4 56.9L426.3 56M460 22.3L461 21.3M357.3 105L368.6 113.2L377.1 104.9M390.7 91.5L392.8 89.4M425.3 56.9L427.5 54.8M460 22.3L462.2 20.1M357.3 104.5L368.6 112.8L379 103M390.7 91.5L394.2 88M425.3 56.9L428.9 53.4M459.9 22.3L463.5 18.8M357.3 103.9L363.5 108.2L368.6 112.4L380.2 101.8M390.6 91.5L395.8 86.5M425.3 56.9L430.3 51.9M459.9 22.3L464.9 17.3M357.3 103.3L363.9 107.8L368.6 111.8L380.9 101.1M390.6 91.5L397.5 84.7M425.2 56.9L432 50.2M459.9 22.3L466.5 15.7M357.3 102.5L363.9 106.9L368.6 111.1L381.3 100.7M390.6 91.5L399.4 82.8M425.2 56.9L433.9 48.3M459.8 22.3L468.3 13.9M357.3 101.6L364.3 106.2L368.6 110.1L381.6 100.4M390.5 91.5L401.7 80.5M425.2 56.9L436.1 46.1M459.8 22.3L470.5 11.7M357.3 100.5L364.3 104.7L368.6 108.7L377.9 103L382 100M390.5 91.5L404.5 77.6M425.1 56.9L438.8 43.4M459.8 22.3L473.1 9.1M357.3 99L364.7 102.8L368.6 106.2L373.6 104L377.9 102.5L382.1 99.8L383.5 98.4M390.4 91.5L408.2 73.9M425.1 56.9L442.4 39.7M459.8 22.3L476.6 5.5M357.3 95.4L361.6 96.2L363.9 97L365.1 97L367 97.8L368.2 97.8L376 100.9L377.9 101.4L381.8 99.8L388 93.9M390.4 91.5L416.1 65.9M425.1 56.9L450.1 31.9M459.7 22.3L478.6 3.4M357.3 93.3L368.6 96.2L377.9 100.2L382.2 98.9L390.2 91.7M390.4 91.5L419.2 62.8M425.1 56.9L452.3 29.7M459.7 22.3L478.6 3.4M357.3 91.1L368.6 94.1L377.9 98.7L382.2 98L385.3 96L391.1 90.7L422.2 59.7M425 56.9L454.5 27.5M459.7 22.3L478.5 3.4M357.3 88.3L369 91.7L377.9 96.6L379.9 96.9L381.8 96.8L385.3 95.7L394.3 87.6L456.8 25.1M459.6 22.3L478.5 3.4M357.3 84.9L369 88.4L379.9 94.5L385.3 95.1L390.9 90.7L398.5 83.3L459.4 22.5M459.6 22.3L478.4 3.4M357.3 80.8L363.1 82.4L368.6 84.5L379.9 91.6L385.3 93.7L389.6 91.7L406.7 75L478.4 3.4M357.3 75.2L363.1 76.6L369 79.4L374.4 82.9L385.3 91L389.2 91.5L389.6 91.2L397 84.4L414.5 67.1L478.3 3.4M357.3 66.3L363.1 68.3L369 71.2L374.4 75.3L385.3 84.8L390.8 87.5L391.1 87.4L398.5 81.9L408.7 72.2L436.4 45.1L478.2 3.4M357.3 51.9L363.5 54.1L369.8 58.2L376.4 63.5L381.8 69L387.3 73.3L393.9 75.4L400.1 74.8L406.7 70.9L425 55.8L478 3.4" fill="none" stroke="#505050" stroke-opacity="0.45" stroke-width="0.55"/><path d="M358.3 106.5L360.4 108.2L362 109L363.1 110.2L365.9 111.8L367 113L368.6 113.8L478.3 4" fill="none" stroke="#7c8a8c" stroke-width="0.8" stroke-linejoin="round"/></g><line x1="381" y1="103.8" x2="381" y2="6.4" stroke="#9c9a3c" stroke-width="1"/><path d="M381 4 l-1.6 4.2 h3.2z" fill="#7cb040"/><line x1="355.9" y1="103.8" x2="378" y2="103.8" stroke="#2626b0" stroke-width="1"/><path d="M380.7 103.8 l-4.2 -1.6 v3.2z" fill="#2020a8"/><rect x="354.9" y="1.2" width="128.1" height="128.1" fill="none" stroke="#8a8a8a" stroke-width="0.9"/><path d="M355.9 129.3v-1.7M355.9 1.2v1.7M354.9 128.9h1.7M483 128.9h-1.7M360.9 129.3v-1.1M360.9 1.2v1.1M354.9 123.9h1.1M483 123.9h-1.1M365.9 129.3v-1.1M365.9 1.2v1.1M354.9 118.9h1.1M483 118.9h-1.1M371 129.3v-1.1M371 1.2v1.1M354.9 113.8h1.1M483 113.8h-1.1M376 129.3v-1.1M376 1.2v1.1M354.9 108.8h1.1M483 108.8h-1.1M381 129.3v-1.7M381 1.2v1.7M354.9 103.8h1.7M483 103.8h-1.7M386 129.3v-1.1M386 1.2v1.1M354.9 98.8h1.1M483 98.8h-1.1M391 129.3v-1.1M391 1.2v1.1M354.9 93.8h1.1M483 93.8h-1.1M396.1 129.3v-1.1M396.1 1.2v1.1M354.9 88.7h1.1M483 88.7h-1.1M401.1 129.3v-1.1M401.1 1.2v1.1M354.9 83.7h1.1M483 83.7h-1.1M406.1 129.3v-1.7M406.1 1.2v1.7M354.9 78.7h1.7M483 78.7h-1.7M411.1 129.3v-1.1M411.1 1.2v1.1M354.9 73.7h1.1M483 73.7h-1.1M416.1 129.3v-1.1M416.1 1.2v1.1M354.9 68.7h1.1M483 68.7h-1.1M421.2 129.3v-1.1M421.2 1.2v1.1M354.9 63.6h1.1M483 63.6h-1.1M426.2 129.3v-1.1M426.2 1.2v1.1M354.9 58.6h1.1M483 58.6h-1.1M431.2 129.3v-1.7M431.2 1.2v1.7M354.9 53.6h1.7M483 53.6h-1.7M436.2 129.3v-1.1M436.2 1.2v1.1M354.9 48.6h1.1M483 48.6h-1.1M441.2 129.3v-1.1M441.2 1.2v1.1M354.9 43.6h1.1M483 43.6h-1.1M446.3 129.3v-1.1M446.3 1.2v1.1M354.9 38.5h1.1M483 38.5h-1.1M451.3 129.3v-1.1M451.3 1.2v1.1M354.9 33.5h1.1M483 33.5h-1.1M456.3 129.3v-1.7M456.3 1.2v1.7M354.9 28.5h1.7M483 28.5h-1.7M461.3 129.3v-1.1M461.3 1.2v1.1M354.9 23.5h1.1M483 23.5h-1.1M466.3 129.3v-1.1M466.3 1.2v1.1M354.9 18.5h1.1M483 18.5h-1.1M471.4 129.3v-1.1M471.4 1.2v1.1M354.9 13.4h1.1M483 13.4h-1.1M476.4 129.3v-1.1M476.4 1.2v1.1M354.9 8.4h1.1M483 8.4h-1.1M481.4 129.3v-1.7M481.4 1.2v1.7M354.9 3.4h1.7M483 3.4h-1.7" stroke="#000" stroke-width="0.7"/><text x="355.9" y="140.2" font-size="10" text-anchor="middle" >0</text><text x="352.7" y="132.3" font-size="10" text-anchor="end" >0</text><text x="381" y="140.2" font-size="10" text-anchor="middle" >5</text><text x="352.7" y="107.2" font-size="10" text-anchor="end" >5</text><text x="406.1" y="140.2" font-size="10" text-anchor="middle" >10</text><text x="352.7" y="82.1" font-size="10" text-anchor="end" >10</text><text x="431.2" y="140.2" font-size="10" text-anchor="middle" >15</text><text x="352.7" y="57" font-size="10" text-anchor="end" >15</text><text x="456.3" y="140.2" font-size="10" text-anchor="middle" >20</text><text x="352.7" y="31.9" font-size="10" text-anchor="end" >20</text><text x="481.4" y="140.2" font-size="10" text-anchor="middle" >25</text><text x="352.7" y="6.8" font-size="10" text-anchor="end" >25</text><text x="402.7" y="155" font-size="11" textLength="32.4" lengthAdjust="spacingAndGlyphs"><tspan font-style="italic">R</tspan><tspan font-size="7.6" dy="2">1</tspan><tspan dy="-2">(nm)</tspan></text><text transform="translate(337.9,64.3) rotate(-90)" font-size="11" textLength="32" lengthAdjust="spacingAndGlyphs" x="-16"><tspan font-style="italic">R</tspan><tspan font-size="7.6" dy="2">2</tspan><tspan dy="-2">(nm)</tspan></text><text x="357.3" y="108.7" font-size="9" text-anchor="middle" >A</text><text x="385.7" y="108.9" font-size="9" text-anchor="middle" >O</text><text x="385.9" y="8.9" font-size="9" text-anchor="middle" >B</text><rect x="458.2" y="30.8" width="5.8" height="4.5" fill="#d8202e"/><rect x="458.2" y="35.2" width="5.8" height="4.5" fill="#e25e32"/><rect x="458.2" y="39.7" width="5.8" height="4.5" fill="#eb862e"/><rect x="458.2" y="44.1" width="5.8" height="4.5" fill="#f1a02e"/><rect x="458.2" y="48.6" width="5.8" height="4.5" fill="#f5bd2d"/><rect x="458.2" y="53" width="5.8" height="4.5" fill="#f8d82c"/><rect x="458.2" y="57.4" width="5.8" height="4.5" fill="#faea3a"/><rect x="458.2" y="61.9" width="5.8" height="4.5" fill="#f9f36f"/><rect x="458.2" y="66.3" width="5.8" height="4.5" fill="#f6f5b3"/><rect x="458.2" y="70.8" width="5.8" height="4.5" fill="#f1f1e9"/><rect x="458.2" y="75.2" width="5.8" height="4.5" fill="#e3e7f2"/><rect x="458.2" y="79.6" width="5.8" height="4.5" fill="#d0d9f5"/><rect x="458.2" y="84.1" width="5.8" height="4.5" fill="#b8c6f3"/><rect x="458.2" y="88.5" width="5.8" height="4.5" fill="#9eb0ef"/><rect x="458.2" y="93" width="5.8" height="4.5" fill="#829ae9"/><rect x="458.2" y="97.4" width="5.8" height="4.5" fill="#6682e0"/><rect x="458.2" y="101.8" width="5.8" height="4.5" fill="#4a69d2"/><rect x="458.2" y="106.3" width="5.8" height="4.5" fill="#3654c5"/><rect x="458.2" y="110.7" width="5.8" height="4.5" fill="#2a44b7"/><rect x="458.2" y="115.2" width="5.8" height="4.5" fill="#243cb0"/><path d="M458.2 35.2h5.8M458.2 39.7h5.8M458.2 44.1h5.8M458.2 48.6h5.8M458.2 53h5.8M458.2 57.4h5.8M458.2 61.9h5.8M458.2 66.3h5.8M458.2 70.8h5.8M458.2 75.2h5.8M458.2 79.6h5.8M458.2 84.1h5.8M458.2 88.5h5.8M458.2 93h5.8M458.2 97.4h5.8M458.2 101.8h5.8M458.2 106.3h5.8M458.2 110.7h5.8M458.2 115.2h5.8" stroke="#666" stroke-opacity="0.55" stroke-width="0.5"/><path d="M464.4 48.6h1" stroke="#999" stroke-width="0.4"/><text x="466.6" y="50" font-size="4.2" text-anchor="start" fill="#666">- 1</text><path d="M464.4 66.3h1" stroke="#999" stroke-width="0.4"/><text x="466.6" y="67.7" font-size="4.2" text-anchor="start" fill="#666">- 2</text><path d="M464.4 84.1h1" stroke="#999" stroke-width="0.4"/><text x="466.6" y="85.5" font-size="4.2" text-anchor="start" fill="#666">- 3</text><path d="M464.4 101.8h1" stroke="#999" stroke-width="0.4"/><text x="466.6" y="103.2" font-size="4.2" text-anchor="start" fill="#666">- 4</text><path d="M464.4 119.6h1" stroke="#999" stroke-width="0.4"/><text x="466.6" y="121" font-size="4.2" text-anchor="start" fill="#666">- 5</text><clipPath id="tc3"><rect x="519.9" y="1.7" width="127.1" height="127.1"/></clipPath><g clip-path="url(#tc3)"><path d="M532.7 115.1L532.9 115.1L532.1 114L529.7 111.2L524.9 106.5L522.6 105.3L521.8 105L521.8 105.3L522.6 105.7L523.4 105.7L524.9 106.9L525.3 106.9L530.8 112.4L530.8 112.8L532.3 114.3Z" fill="#5d6cb2" stroke="#5d6cb2" stroke-width="0.25"/><path d="M532.7 114.8L532.9 115.1L533.2 115L531.6 112.8L526.1 107L524.5 105.8L522.6 104.9L521.8 104.6L521.8 105L524.1 106L525.7 107.1L529.6 111Z" fill="#6070b5" stroke="#6070b5" stroke-width="0.25"/><path d="M533.1 114.8L533.2 115L533.5 114.7L531.7 112.4L526.1 106.5L524.5 105.3L522.6 104.4L521.8 104.1L521.8 104.6L524.1 105.6L525.7 106.7L529.8 110.8Z" fill="#6577bc" stroke="#6577bc" stroke-width="0.25"/><path d="M533.5 114.7L533.8 114.4L532.2 112.4L526.3 106.1L524.5 104.7L522.1 103.7L521.8 103.6L521.8 104.1L524.5 105.3L526.1 106.5L530.3 110.8Z" fill="#6e81c2" stroke="#6e81c2" stroke-width="0.25"/><path d="M533.8 114.4L534.1 114.1L532.5 112L526.5 105.6L524.9 104.3L522.2 103.1L521.8 103L521.8 103.6L524.5 104.7L526.5 106.3L530.5 110.4Z" fill="#798bca" stroke="#798bca" stroke-width="0.25"/><path d="M534.1 114.1L534.5 113.7L532.9 111.6L526.5 104.9L524.9 103.6L522.2 102.4L521.8 102.3L521.8 103L524.5 104.1L526.5 105.6L530.4 109.6Z" fill="#8698d3" stroke="#8698d3" stroke-width="0.25"/><path d="M534.5 113.7L534.9 113.3L533.4 111.2L526.9 104.3L524.9 102.8L522.2 101.6L521.8 101.5L521.8 102.3L524.5 103.4L526.1 104.5L530.8 109.2Z" fill="#98a7dc" stroke="#98a7dc" stroke-width="0.25"/><path d="M534.9 113.3L535.5 112.7L533.5 110L530.3 106.5L525.7 102.2L522.2 100.5L521.8 100.4L521.8 101.5L524.9 102.8L526.5 103.9L531 108.4Z" fill="#aebbe5" stroke="#aebbe5" stroke-width="0.25"/><path d="M535.4 112.6L536.3 111.9L531.1 105.7L526.1 100.9L522.2 99.1L521.8 98.9L521.8 100.4L524.9 101.7L526.5 102.8L531.4 107.7Z" fill="#c7d0ec" stroke="#c7d0ec" stroke-width="0.25"/><path d="M536.2 111.8L538 110.2L534.6 105.7L527.3 98.2L525.4 97L522.6 95.9L521.8 95.7L521.8 98.9L524.9 100.2L526.9 101.5L532.2 106.9Z" fill="#dfe3ef" stroke="#dfe3ef" stroke-width="0.25"/><path d="M538 110.2L539.3 109.3L536.6 105.7L533.1 101.8L527.3 96.2L525.3 95L522.4 93.9L521.8 93.7L521.8 95.7L523.8 96.2L527.3 98.2L534.6 105.7Z" fill="#f1f1e9" stroke="#f1f1e9" stroke-width="0.25"/><path d="M539.3 109.3L540.4 108.1L537.7 104.5L533.9 100.2L527.6 94.2L525.7 93L522.6 91.8L521.8 91.5L521.8 93.7L525.7 95.2L528 96.8L534.1 102.9Z" fill="#f6f5b3" stroke="#f6f5b3" stroke-width="0.25"/><path d="M540.4 108.1L541.8 106.7L538.9 102.8L535 98.5L528 91.7L526.1 90.6L522.6 89.2L521.8 88.9L521.8 91.5L526.1 93.2L528.4 94.8L534.9 101.4Z" fill="#f9f36f" stroke="#f9f36f" stroke-width="0.25"/><path d="M541.6 106.5L541.8 106.7L543.6 104.9L540.5 100.8L536.8 96.6L528.8 88.9L526.5 87.5L522.9 86L521.8 85.7L521.8 88.9L526.1 90.6L528.8 92.3L535.8 99.3L539 102.9Z" fill="#faea3a" stroke="#faea3a" stroke-width="0.25"/><path d="M543.6 104.9L545.8 102.7L542.4 98.2L538.6 93.9L529.6 85L526.9 83.4L522.6 81.8L521.8 81.5L521.8 85.7L526.9 87.6L529.6 89.5L537.1 97L540.5 100.8Z" fill="#f8d82c" stroke="#f8d82c" stroke-width="0.25"/><path d="M545.8 102.7L548.8 99.6L544.4 93.8L538.9 87.8L531.1 80.2L528 78.2L523 76.2L521.8 75.9L521.8 81.5L527.3 83.6L530.4 85.6L538.6 93.9L542.4 98.2Z" fill="#f5bd2d" stroke="#f5bd2d" stroke-width="0.25"/><path d="M548.6 99.4L548.8 99.6L553.2 95.1L549.1 89.6L542.4 82.1L533.1 72.9L530 70.8L524.1 68.3L521.8 67.6L521.8 75.9L528 78.2L531.5 80.5L540.9 89.9L545.1 94.7Z" fill="#f1a02e" stroke="#f1a02e" stroke-width="0.25"/><path d="M553.2 95.1L560.7 87.6L555 80.1L549.4 73.8L537 61.2L534.6 59.3L532.3 57.8L524.9 54.7L521.8 53.8L521.8 67.6L529.2 70.4L531.5 71.7L533.5 73.2L544 83.8L548.7 89.2Z" fill="#eb862e" stroke="#eb862e" stroke-width="0.25"/><path d="M560.7 87.6L573.2 75L573.5 75L608.2 40L608.6 40L642.8 5.4L643.2 5.4L645.1 3.4L564.6 3.4L521.8 3.4L521.8 53.8L526.5 55.3L530.8 57L533.5 58.5L536.2 60.5L549.1 73.4L555 80.1Z" fill="#d8202e" stroke="#d8202e" stroke-width="0.25"/><path d="M521.8 105L524.1 106L525.7 107.1L529.7 111.2L532.9 115.1M521.8 104.6L524.1 105.6L525.7 106.7L529.8 110.8L533.2 115M521.8 104.1L524.1 105.1L525.7 106.1L530 110.4L533.5 114.7M521.8 103.6L524.5 104.7L526.1 105.9L530.2 110L533.8 114.4M521.8 103L524.5 104.1L526.1 105.3L530.4 109.6L534.1 114.1M521.8 102.3L524.5 103.4L526.1 104.5L530.8 109.2L534.5 113.7M521.8 101.5L524.9 102.8L526.5 103.9L531 108.4L534.9 113.3M521.8 100.4L524.9 101.7L526.5 102.8L531.4 107.7L535.5 112.7M521.8 98.9L524.9 100.2L526.9 101.5L532.2 106.9L536.3 111.9M521.8 95.7L523.8 96.2L527.3 98.2L534.6 105.7L538 110.2M521.8 93.7L525.7 95.2L528 96.8L534.1 102.9L539.3 109.3M521.8 91.5L526.1 93.2L528.4 94.8L534.9 101.4L540.4 108.1M521.8 88.9L526.5 90.7L529.2 92.7L535.9 99.4L541.8 106.7M521.8 85.7L526.9 87.6L529.6 89.5L537.1 97L540.5 100.8L543.6 104.9M521.8 81.5L527.3 83.6L530.4 85.6L538.6 93.9L542.4 98.2L545.8 102.7M521.8 75.9L528 78.2L531.5 80.5L540.9 89.9L545.1 94.7L548.8 99.6M521.8 67.6L529.2 70.4L533.5 73.2L544 83.8L548.7 89.2L553.2 95.1M521.8 53.8L526.5 55.3L530.8 57L533.5 58.5L536.2 60.5L549.1 73.4L555 80.1L560.7 87.6" fill="none" stroke="#505050" stroke-opacity="0.45" stroke-width="0.55"/></g><line x1="545.5" y1="103.8" x2="545.5" y2="6.4" stroke="#9c9a3c" stroke-width="1"/><path d="M545.5 4 l-1.6 4.2 h3.2z" fill="#7cb040"/><line x1="520.4" y1="103.8" x2="542.5" y2="103.8" stroke="#2626b0" stroke-width="1"/><path d="M545.2 103.8 l-4.2 -1.6 v3.2z" fill="#2020a8"/><rect x="519.4" y="1.2" width="128.1" height="128.1" fill="none" stroke="#8a8a8a" stroke-width="0.9"/><path d="M520.4 129.3v-1.7M520.4 1.2v1.7M519.4 128.9h1.7M647.5 128.9h-1.7M525.4 129.3v-1.1M525.4 1.2v1.1M519.4 123.9h1.1M647.5 123.9h-1.1M530.4 129.3v-1.1M530.4 1.2v1.1M519.4 118.9h1.1M647.5 118.9h-1.1M535.5 129.3v-1.1M535.5 1.2v1.1M519.4 113.8h1.1M647.5 113.8h-1.1M540.5 129.3v-1.1M540.5 1.2v1.1M519.4 108.8h1.1M647.5 108.8h-1.1M545.5 129.3v-1.7M545.5 1.2v1.7M519.4 103.8h1.7M647.5 103.8h-1.7M550.5 129.3v-1.1M550.5 1.2v1.1M519.4 98.8h1.1M647.5 98.8h-1.1M555.5 129.3v-1.1M555.5 1.2v1.1M519.4 93.8h1.1M647.5 93.8h-1.1M560.6 129.3v-1.1M560.6 1.2v1.1M519.4 88.7h1.1M647.5 88.7h-1.1M565.6 129.3v-1.1M565.6 1.2v1.1M519.4 83.7h1.1M647.5 83.7h-1.1M570.6 129.3v-1.7M570.6 1.2v1.7M519.4 78.7h1.7M647.5 78.7h-1.7M575.6 129.3v-1.1M575.6 1.2v1.1M519.4 73.7h1.1M647.5 73.7h-1.1M580.6 129.3v-1.1M580.6 1.2v1.1M519.4 68.7h1.1M647.5 68.7h-1.1M585.7 129.3v-1.1M585.7 1.2v1.1M519.4 63.6h1.1M647.5 63.6h-1.1M590.7 129.3v-1.1M590.7 1.2v1.1M519.4 58.6h1.1M647.5 58.6h-1.1M595.7 129.3v-1.7M595.7 1.2v1.7M519.4 53.6h1.7M647.5 53.6h-1.7M600.7 129.3v-1.1M600.7 1.2v1.1M519.4 48.6h1.1M647.5 48.6h-1.1M605.7 129.3v-1.1M605.7 1.2v1.1M519.4 43.6h1.1M647.5 43.6h-1.1M610.8 129.3v-1.1M610.8 1.2v1.1M519.4 38.5h1.1M647.5 38.5h-1.1M615.8 129.3v-1.1M615.8 1.2v1.1M519.4 33.5h1.1M647.5 33.5h-1.1M620.8 129.3v-1.7M620.8 1.2v1.7M519.4 28.5h1.7M647.5 28.5h-1.7M625.8 129.3v-1.1M625.8 1.2v1.1M519.4 23.5h1.1M647.5 23.5h-1.1M630.8 129.3v-1.1M630.8 1.2v1.1M519.4 18.5h1.1M647.5 18.5h-1.1M635.9 129.3v-1.1M635.9 1.2v1.1M519.4 13.4h1.1M647.5 13.4h-1.1M640.9 129.3v-1.1M640.9 1.2v1.1M519.4 8.4h1.1M647.5 8.4h-1.1M645.9 129.3v-1.7M645.9 1.2v1.7M519.4 3.4h1.7M647.5 3.4h-1.7" stroke="#000" stroke-width="0.7"/><text x="520.4" y="140.2" font-size="10" text-anchor="middle" >0</text><text x="517.2" y="132.3" font-size="10" text-anchor="end" >0</text><text x="545.5" y="140.2" font-size="10" text-anchor="middle" >5</text><text x="517.2" y="107.2" font-size="10" text-anchor="end" >5</text><text x="570.6" y="140.2" font-size="10" text-anchor="middle" >10</text><text x="517.2" y="82.1" font-size="10" text-anchor="end" >10</text><text x="595.7" y="140.2" font-size="10" text-anchor="middle" >15</text><text x="517.2" y="57" font-size="10" text-anchor="end" >15</text><text x="620.8" y="140.2" font-size="10" text-anchor="middle" >20</text><text x="517.2" y="31.9" font-size="10" text-anchor="end" >20</text><text x="645.9" y="140.2" font-size="10" text-anchor="middle" >25</text><text x="517.2" y="6.8" font-size="10" text-anchor="end" >25</text><text x="567.2" y="155" font-size="11" textLength="32.4" lengthAdjust="spacingAndGlyphs"><tspan font-style="italic">R</tspan><tspan font-size="7.6" dy="2">1</tspan><tspan dy="-2">(nm)</tspan></text><text transform="translate(502.4,64.3) rotate(-90)" font-size="11" textLength="32" lengthAdjust="spacingAndGlyphs" x="-16"><tspan font-style="italic">R</tspan><tspan font-size="7.6" dy="2">2</tspan><tspan dy="-2">(nm)</tspan></text><text x="521.8" y="108.7" font-size="9" text-anchor="middle" >A</text><text x="550.2" y="108.9" font-size="9" text-anchor="middle" >O</text><text x="550.4" y="8.9" font-size="9" text-anchor="middle" >B</text><rect x="622.7" y="30.8" width="5.8" height="4.5" fill="#d8202e"/><rect x="622.7" y="35.2" width="5.8" height="4.5" fill="#e25e32"/><rect x="622.7" y="39.7" width="5.8" height="4.5" fill="#eb862e"/><rect x="622.7" y="44.1" width="5.8" height="4.5" fill="#f1a02e"/><rect x="622.7" y="48.6" width="5.8" height="4.5" fill="#f5bd2d"/><rect x="622.7" y="53" width="5.8" height="4.5" fill="#f8d82c"/><rect x="622.7" y="57.4" width="5.8" height="4.5" fill="#faea3a"/><rect x="622.7" y="61.9" width="5.8" height="4.5" fill="#f9f36f"/><rect x="622.7" y="66.3" width="5.8" height="4.5" fill="#f6f5b3"/><rect x="622.7" y="70.8" width="5.8" height="4.5" fill="#f1f1e9"/><rect x="622.7" y="75.2" width="5.8" height="4.5" fill="#e3e7f2"/><rect x="622.7" y="79.6" width="5.8" height="4.5" fill="#d0d9f5"/><rect x="622.7" y="84.1" width="5.8" height="4.5" fill="#b8c6f3"/><rect x="622.7" y="88.5" width="5.8" height="4.5" fill="#9eb0ef"/><rect x="622.7" y="93" width="5.8" height="4.5" fill="#829ae9"/><rect x="622.7" y="97.4" width="5.8" height="4.5" fill="#6682e0"/><rect x="622.7" y="101.8" width="5.8" height="4.5" fill="#4a69d2"/><rect x="622.7" y="106.3" width="5.8" height="4.5" fill="#3654c5"/><rect x="622.7" y="110.7" width="5.8" height="4.5" fill="#2a44b7"/><rect x="622.7" y="115.2" width="5.8" height="4.5" fill="#243cb0"/><path d="M622.7 35.2h5.8M622.7 39.7h5.8M622.7 44.1h5.8M622.7 48.6h5.8M622.7 53h5.8M622.7 57.4h5.8M622.7 61.9h5.8M622.7 66.3h5.8M622.7 70.8h5.8M622.7 75.2h5.8M622.7 79.6h5.8M622.7 84.1h5.8M622.7 88.5h5.8M622.7 93h5.8M622.7 97.4h5.8M622.7 101.8h5.8M622.7 106.3h5.8M622.7 110.7h5.8M622.7 115.2h5.8" stroke="#666" stroke-opacity="0.55" stroke-width="0.5"/><path d="M628.9 30.8h1" stroke="#999" stroke-width="0.4"/><text x="631.1" y="32.2" font-size="4.2" text-anchor="start" fill="#666">0</text><path d="M628.9 48.6h1" stroke="#999" stroke-width="0.4"/><text x="631.1" y="50" font-size="4.2" text-anchor="start" fill="#666">- 1</text><path d="M628.9 66.3h1" stroke="#999" stroke-width="0.4"/><text x="631.1" y="67.7" font-size="4.2" text-anchor="start" fill="#666">- 2</text><path d="M628.9 84.1h1" stroke="#999" stroke-width="0.4"/><text x="631.1" y="85.5" font-size="4.2" text-anchor="start" fill="#666">- 3</text><path d="M628.9 101.8h1" stroke="#999" stroke-width="0.4"/><text x="631.1" y="103.2" font-size="4.2" text-anchor="start" fill="#666">- 4</text><path d="M628.9 119.6h1" stroke="#999" stroke-width="0.4"/><text x="631.1" y="121" font-size="4.2" text-anchor="start" fill="#666">- 5</text><clipPath id="bc0"><rect x="25" y="200.9" width="129.1" height="80.3"/></clipPath><line x1="50.6" y1="201.9" x2="50.6" y2="281.2" stroke="#8a8a8a" stroke-width="0.6" stroke-dasharray="0.8 1"/><g clip-path="url(#bc0)" fill="none" stroke-width="1.55" stroke-linecap="round"><path d="M25 230C25.4 230.6 26.7 231.7 27.7 233.5C28.6 235.2 29.7 237.5 30.6 240.6C31.6 243.7 32.6 248.1 33.5 252C34.3 256 34.9 259.4 35.5 264.2C36.1 269 36.8 277.8 37 280.9C37.3 284 37.1 282.5 37.2 282.8" stroke="#3c64b4"/><path d="M62.4 282.8C62.4 282.5 62.2 283.9 62.6 280.9C62.9 277.8 63.8 270.4 64.6 264.4C65.4 258.4 66.1 251 67.3 245C68.4 239.1 69.9 232.9 71.5 228.5C73.1 224.2 74.7 221.5 77 218.9C79.3 216.2 82.2 214.2 85.5 212.5C88.7 210.8 92.3 209.8 96.5 208.7C100.6 207.6 104.8 206.8 110.3 206C115.9 205.3 122.7 204.8 129.8 204.3C136.9 203.8 149.2 203.3 153.1 203.1" stroke="#e4991c"/></g><rect x="25" y="201.9" width="128.1" height="79.3" fill="none" stroke="#9a9a9a" stroke-width="0.8"/><path d="M25 281.2v-2.0M25 201.9v2.0M30.1 281.2v-1.1M30.1 201.9v1.1M35.2 281.2v-1.1M35.2 201.9v1.1M40.4 281.2v-1.1M40.4 201.9v1.1M45.5 281.2v-1.1M45.5 201.9v1.1M50.6 281.2v-2.0M50.6 201.9v2.0M55.7 281.2v-1.1M55.7 201.9v1.1M60.9 281.2v-1.1M60.9 201.9v1.1M66 281.2v-1.1M66 201.9v1.1M71.1 281.2v-1.1M71.1 201.9v1.1M76.2 281.2v-2.0M76.2 201.9v2.0M81.4 281.2v-1.1M81.4 201.9v1.1M86.5 281.2v-1.1M86.5 201.9v1.1M91.6 281.2v-1.1M91.6 201.9v1.1M96.7 281.2v-1.1M96.7 201.9v1.1M101.9 281.2v-2.0M101.9 201.9v2.0M107 281.2v-1.1M107 201.9v1.1M112.1 281.2v-1.1M112.1 201.9v1.1M117.2 281.2v-1.1M117.2 201.9v1.1M122.4 281.2v-1.1M122.4 201.9v1.1M127.5 281.2v-2.0M127.5 201.9v2.0M132.6 281.2v-1.1M132.6 201.9v1.1M137.7 281.2v-1.1M137.7 201.9v1.1M142.9 281.2v-1.1M142.9 201.9v1.1M148 281.2v-1.1M148 201.9v1.1M153.1 281.2v-2.0M153.1 201.9v2.0M25 201.9h2.0M153.1 201.9h-2.0M25 205.1h1.1M153.1 205.1h-1.1M25 208.2h1.1M153.1 208.2h-1.1M25 211.4h1.1M153.1 211.4h-1.1M25 214.6h1.1M153.1 214.6h-1.1M25 217.8h2.0M153.1 217.8h-2.0M25 220.9h1.1M153.1 220.9h-1.1M25 224.1h1.1M153.1 224.1h-1.1M25 227.3h1.1M153.1 227.3h-1.1M25 230.4h1.1M153.1 230.4h-1.1M25 233.6h2.0M153.1 233.6h-2.0M25 236.8h1.1M153.1 236.8h-1.1M25 240h1.1M153.1 240h-1.1M25 243.1h1.1M153.1 243.1h-1.1M25 246.3h1.1M153.1 246.3h-1.1M25 249.5h2.0M153.1 249.5h-2.0M25 252.7h1.1M153.1 252.7h-1.1M25 255.8h1.1M153.1 255.8h-1.1M25 259h1.1M153.1 259h-1.1M25 262.2h1.1M153.1 262.2h-1.1M25 265.3h2.0M153.1 265.3h-2.0M25 268.5h1.1M153.1 268.5h-1.1M25 271.7h1.1M153.1 271.7h-1.1M25 274.9h1.1M153.1 274.9h-1.1M25 278h1.1M153.1 278h-1.1M25 281.2h2.0M153.1 281.2h-2.0" stroke="#444" stroke-width="0.5"/><text x="25" y="289.5" font-size="7.8" text-anchor="middle" >0</text><text x="50.6" y="289.5" font-size="7.8" text-anchor="middle" >1</text><text x="76.2" y="289.5" font-size="7.8" text-anchor="middle" >2</text><text x="101.9" y="289.5" font-size="7.8" text-anchor="middle" >3</text><text x="127.5" y="289.5" font-size="7.8" text-anchor="middle" >4</text><text x="153.1" y="289.5" font-size="7.8" text-anchor="middle" >5</text><text x="22.6" y="204.6" font-size="7.8" text-anchor="end" >0</text><text x="22.6" y="220.5" font-size="7.8" text-anchor="end" >−10</text><text x="22.6" y="236.3" font-size="7.8" text-anchor="end" >−20</text><text x="22.6" y="252.2" font-size="7.8" text-anchor="end" >−30</text><text x="22.6" y="268" font-size="7.8" text-anchor="end" >−40</text><text x="22.6" y="283.9" font-size="7.8" text-anchor="end" >−50</text><text x="33.4" y="301" font-size="7.6" textLength="18.6" lengthAdjust="spacingAndGlyphs"><tspan font-style="italic">R</tspan><tspan font-size="5.3" dy="1.4">1</tspan><tspan dy="-1.4">/R</tspan></text><text x="99.2" y="301" font-size="7.6" textLength="18.6" lengthAdjust="spacingAndGlyphs"><tspan font-style="italic">R</tspan><tspan font-size="5.3" dy="1.4">2</tspan><tspan dy="-1.4">/R</tspan></text><text x="29.7" y="197.9" font-size="7.2" text-anchor="middle" font-weight="bold">A</text><text x="52.8" y="197.9" font-size="7.2" text-anchor="middle" font-weight="bold">O</text><text x="148.7" y="197.9" font-size="7.2" text-anchor="middle" font-weight="bold">B</text><text transform="translate(5.6,240.8) rotate(-90)" font-size="8" text-anchor="middle" textLength="39" lengthAdjust="spacingAndGlyphs"><tspan font-style="italic">T</tspan><tspan font-size="5.6" font-style="italic" dy="1.5">c</tspan><tspan dy="-1.5"> − </tspan><tspan font-style="italic" dy="0">T</tspan><tspan font-size="5.6" font-style="italic" dy="1.5">c0</tspan><tspan dy="-1.5">(K)</tspan></text><clipPath id="bc1"><rect x="189.6" y="200.9" width="129.7" height="80.6"/></clipPath><line x1="215.3" y1="201.9" x2="215.3" y2="281.5" stroke="#8a8a8a" stroke-width="0.6" stroke-dasharray="0.8 1"/><g clip-path="url(#bc1)" fill="none" stroke-width="1.55" stroke-linecap="round"><path d="M189.6 257.4C190.2 256.7 192 254.4 193.3 253.3C194.6 252.2 196.1 250.8 197.3 250.6C198.6 250.4 199.9 250.9 200.9 252C202 253.2 202.8 254.4 203.8 257.4C204.7 260.4 205.8 265.9 206.6 269.9C207.4 273.9 208.2 279.3 208.5 281.5C208.9 283.7 208.6 282.8 208.6 283.1" stroke="#3c64b4"/><path d="M220.9 283.1C220.9 282.8 220.6 284.3 221 281.2C221.4 278.1 222.5 270.1 223.3 264.5C224.2 259 225 253.1 226.2 248C227.3 242.9 228.6 238.1 230.3 234.1C231.9 230.2 233.4 227.4 235.9 224.4C238.5 221.4 241.8 218.3 245.7 216.1C249.7 214 254.5 212.6 259.6 211.4C264.7 210.1 269.8 209.5 276.3 208.7C282.9 208 291.7 207.4 298.7 206.8C305.7 206.3 315 205.8 318.3 205.6" stroke="#e4991c"/></g><rect x="189.6" y="201.9" width="128.7" height="79.6" fill="none" stroke="#9a9a9a" stroke-width="0.8"/><path d="M189.6 281.5v-2.0M189.6 201.9v2.0M194.7 281.5v-1.1M194.7 201.9v1.1M199.9 281.5v-1.1M199.9 201.9v1.1M205 281.5v-1.1M205 201.9v1.1M210.2 281.5v-1.1M210.2 201.9v1.1M215.3 281.5v-2.0M215.3 201.9v2.0M220.5 281.5v-1.1M220.5 201.9v1.1M225.6 281.5v-1.1M225.6 201.9v1.1M230.8 281.5v-1.1M230.8 201.9v1.1M235.9 281.5v-1.1M235.9 201.9v1.1M241.1 281.5v-2.0M241.1 201.9v2.0M246.2 281.5v-1.1M246.2 201.9v1.1M251.4 281.5v-1.1M251.4 201.9v1.1M256.5 281.5v-1.1M256.5 201.9v1.1M261.7 281.5v-1.1M261.7 201.9v1.1M266.8 281.5v-2.0M266.8 201.9v2.0M272 281.5v-1.1M272 201.9v1.1M277.1 281.5v-1.1M277.1 201.9v1.1M282.3 281.5v-1.1M282.3 201.9v1.1M287.4 281.5v-1.1M287.4 201.9v1.1M292.6 281.5v-2.0M292.6 201.9v2.0M297.7 281.5v-1.1M297.7 201.9v1.1M302.9 281.5v-1.1M302.9 201.9v1.1M308 281.5v-1.1M308 201.9v1.1M313.2 281.5v-1.1M313.2 201.9v1.1M318.3 281.5v-2.0M318.3 201.9v2.0M189.6 201.9h2.0M318.3 201.9h-2.0M189.6 205.1h1.1M318.3 205.1h-1.1M189.6 208.3h1.1M318.3 208.3h-1.1M189.6 211.5h1.1M318.3 211.5h-1.1M189.6 214.6h1.1M318.3 214.6h-1.1M189.6 217.8h2.0M318.3 217.8h-2.0M189.6 221h1.1M318.3 221h-1.1M189.6 224.2h1.1M318.3 224.2h-1.1M189.6 227.4h1.1M318.3 227.4h-1.1M189.6 230.6h1.1M318.3 230.6h-1.1M189.6 233.7h2.0M318.3 233.7h-2.0M189.6 236.9h1.1M318.3 236.9h-1.1M189.6 240.1h1.1M318.3 240.1h-1.1M189.6 243.3h1.1M318.3 243.3h-1.1M189.6 246.5h1.1M318.3 246.5h-1.1M189.6 249.7h2.0M318.3 249.7h-2.0M189.6 252.8h1.1M318.3 252.8h-1.1M189.6 256h1.1M318.3 256h-1.1M189.6 259.2h1.1M318.3 259.2h-1.1M189.6 262.4h1.1M318.3 262.4h-1.1M189.6 265.6h2.0M318.3 265.6h-2.0M189.6 268.8h1.1M318.3 268.8h-1.1M189.6 271.9h1.1M318.3 271.9h-1.1M189.6 275.1h1.1M318.3 275.1h-1.1M189.6 278.3h1.1M318.3 278.3h-1.1M189.6 281.5h2.0M318.3 281.5h-2.0" stroke="#444" stroke-width="0.5"/><text x="189.6" y="289.8" font-size="7.8" text-anchor="middle" >0</text><text x="215.3" y="289.8" font-size="7.8" text-anchor="middle" >1</text><text x="241.1" y="289.8" font-size="7.8" text-anchor="middle" >2</text><text x="266.8" y="289.8" font-size="7.8" text-anchor="middle" >3</text><text x="292.6" y="289.8" font-size="7.8" text-anchor="middle" >4</text><text x="318.3" y="289.8" font-size="7.8" text-anchor="middle" >5</text><text x="187.8" y="204.6" font-size="7.8" text-anchor="end" >0</text><text x="187.8" y="220.5" font-size="7.8" text-anchor="end" >−2</text><text x="187.8" y="236.4" font-size="7.8" text-anchor="end" >−4</text><text x="187.8" y="252.4" font-size="7.8" text-anchor="end" >−6</text><text x="187.8" y="268.3" font-size="7.8" text-anchor="end" >−8</text><text x="187.8" y="284.2" font-size="7.8" text-anchor="end" >−10</text><text x="198.1" y="301" font-size="7.6" textLength="18.6" lengthAdjust="spacingAndGlyphs"><tspan font-style="italic">R</tspan><tspan font-size="5.3" dy="1.4">1</tspan><tspan dy="-1.4">/R</tspan></text><text x="264.2" y="301" font-size="7.6" textLength="18.6" lengthAdjust="spacingAndGlyphs"><tspan font-style="italic">R</tspan><tspan font-size="5.3" dy="1.4">2</tspan><tspan dy="-1.4">/R</tspan></text><text x="195.2" y="197.9" font-size="7.2" text-anchor="middle" font-weight="bold">A</text><text x="217.8" y="197.9" font-size="7.2" text-anchor="middle" font-weight="bold">O</text><text x="313.7" y="197.9" font-size="7.2" text-anchor="middle" font-weight="bold">B</text><text transform="translate(171.2,241.4) rotate(-90)" font-size="8" text-anchor="middle" textLength="39" lengthAdjust="spacingAndGlyphs"><tspan font-style="italic">T</tspan><tspan font-size="5.6" font-style="italic" dy="1.5">c</tspan><tspan dy="-1.5"> − </tspan><tspan font-style="italic" dy="0">T</tspan><tspan font-size="5.6" font-style="italic" dy="1.5">c0</tspan><tspan dy="-1.5">(K)</tspan></text><clipPath id="bc2"><rect x="351" y="200.9" width="134" height="83.3"/></clipPath><line x1="377.6" y1="201.9" x2="377.6" y2="284.2" stroke="#8a8a8a" stroke-width="0.6" stroke-dasharray="0.8 1"/><g clip-path="url(#bc2)" fill="none" stroke-width="1.55" stroke-linecap="round"><path d="M351 274.8C351.4 274.2 352.6 273.1 353.5 271.4C354.4 269.6 355.2 267.5 356.3 264.4C357.5 261.4 358.9 256.4 360.3 253.3C361.7 250.1 363.2 247.5 364.6 245.7C366 243.8 367.5 242.6 368.7 242.2C369.8 241.9 370.6 242.2 371.5 243.5C372.3 244.9 373.1 247 373.7 250.5C374.3 253.9 374.7 258.9 375.1 264.4C375.4 270 375.7 280.1 375.9 283.7C376.1 287.3 376 285.5 376 285.8" stroke="#3c64b4"/><path d="M378.2 289.1C378.2 288.3 378.3 286.6 378.4 284.2C378.5 281.8 378.7 278.2 378.9 274.8C379.2 271.4 379.4 267.3 379.7 263.7C380 260 380.4 256.2 380.8 252.8C381.2 249.4 381.6 246.2 382.1 243.4C382.6 240.6 383.1 238 383.7 235.8C384.3 233.5 384.8 231.8 385.6 229.9C386.3 228 387.1 226.2 388.2 224.5C389.3 222.8 390.7 221.2 392.2 219.8C393.8 218.4 395.6 217.2 397.6 216.1C399.5 215 401.3 214.2 404.2 213.3C407.1 212.4 410.8 211.4 414.8 210.6C418.8 209.9 423.3 209.2 428.1 208.6C433 208.1 438.3 207.6 444.1 207.1C449.9 206.7 456.1 206.3 462.7 206C469.4 205.7 480.5 205.3 484 205.2" stroke="#e4991c"/></g><rect x="351" y="201.9" width="133" height="82.3" fill="none" stroke="#9a9a9a" stroke-width="0.8"/><path d="M351 284.2v-2.0M351 201.9v2.0M356.3 284.2v-1.1M356.3 201.9v1.1M361.6 284.2v-1.1M361.6 201.9v1.1M367 284.2v-1.1M367 201.9v1.1M372.3 284.2v-1.1M372.3 201.9v1.1M377.6 284.2v-2.0M377.6 201.9v2.0M382.9 284.2v-1.1M382.9 201.9v1.1M388.2 284.2v-1.1M388.2 201.9v1.1M393.6 284.2v-1.1M393.6 201.9v1.1M398.9 284.2v-1.1M398.9 201.9v1.1M404.2 284.2v-2.0M404.2 201.9v2.0M409.5 284.2v-1.1M409.5 201.9v1.1M414.8 284.2v-1.1M414.8 201.9v1.1M420.2 284.2v-1.1M420.2 201.9v1.1M425.5 284.2v-1.1M425.5 201.9v1.1M430.8 284.2v-2.0M430.8 201.9v2.0M436.1 284.2v-1.1M436.1 201.9v1.1M441.4 284.2v-1.1M441.4 201.9v1.1M446.8 284.2v-1.1M446.8 201.9v1.1M452.1 284.2v-1.1M452.1 201.9v1.1M457.4 284.2v-2.0M457.4 201.9v2.0M462.7 284.2v-1.1M462.7 201.9v1.1M468 284.2v-1.1M468 201.9v1.1M473.4 284.2v-1.1M473.4 201.9v1.1M478.7 284.2v-1.1M478.7 201.9v1.1M484 284.2v-2.0M484 201.9v2.0M351 201.9h2.0M484 201.9h-2.0M351 205.2h1.1M484 205.2h-1.1M351 208.5h1.1M484 208.5h-1.1M351 211.8h1.1M484 211.8h-1.1M351 215.1h1.1M484 215.1h-1.1M351 218.4h2.0M484 218.4h-2.0M351 221.7h1.1M484 221.7h-1.1M351 224.9h1.1M484 224.9h-1.1M351 228.2h1.1M484 228.2h-1.1M351 231.5h1.1M484 231.5h-1.1M351 234.8h2.0M484 234.8h-2.0M351 238.1h1.1M484 238.1h-1.1M351 241.4h1.1M484 241.4h-1.1M351 244.7h1.1M484 244.7h-1.1M351 248h1.1M484 248h-1.1M351 251.3h2.0M484 251.3h-2.0M351 254.6h1.1M484 254.6h-1.1M351 257.9h1.1M484 257.9h-1.1M351 261.2h1.1M484 261.2h-1.1M351 264.4h1.1M484 264.4h-1.1M351 267.7h2.0M484 267.7h-2.0M351 271h1.1M484 271h-1.1M351 274.3h1.1M484 274.3h-1.1M351 277.6h1.1M484 277.6h-1.1M351 280.9h1.1M484 280.9h-1.1M351 284.2h2.0M484 284.2h-2.0" stroke="#444" stroke-width="0.5"/><text x="351" y="292.5" font-size="7.8" text-anchor="middle" >0</text><text x="377.6" y="292.5" font-size="7.8" text-anchor="middle" >1</text><text x="404.2" y="292.5" font-size="7.8" text-anchor="middle" >2</text><text x="430.8" y="292.5" font-size="7.8" text-anchor="middle" >3</text><text x="457.4" y="292.5" font-size="7.8" text-anchor="middle" >4</text><text x="484" y="292.5" font-size="7.8" text-anchor="middle" >5</text><text x="349.2" y="204.6" font-size="7.8" text-anchor="end" >0</text><text x="349.2" y="221.1" font-size="7.8" text-anchor="end" >−1</text><text x="349.2" y="237.5" font-size="7.8" text-anchor="end" >−2</text><text x="349.2" y="254" font-size="7.8" text-anchor="end" >−3</text><text x="349.2" y="270.4" font-size="7.8" text-anchor="end" >−4</text><text x="349.2" y="286.9" font-size="7.8" text-anchor="end" >−5</text><text x="360.1" y="303.6" font-size="7.6" textLength="18.6" lengthAdjust="spacingAndGlyphs"><tspan font-style="italic">R</tspan><tspan font-size="5.3" dy="1.4">1</tspan><tspan dy="-1.4">/R</tspan></text><text x="428.4" y="303.6" font-size="7.6" textLength="18.6" lengthAdjust="spacingAndGlyphs"><tspan font-style="italic">R</tspan><tspan font-size="5.3" dy="1.4">2</tspan><tspan dy="-1.4">/R</tspan></text><text x="358.9" y="197.9" font-size="7.2" text-anchor="middle" font-weight="bold">A</text><text x="381.5" y="197.9" font-size="7.2" text-anchor="middle" font-weight="bold">O</text><text x="477.1" y="197.9" font-size="7.2" text-anchor="middle" font-weight="bold">B</text><text transform="translate(335.3,242.3) rotate(-90)" font-size="8" text-anchor="middle" textLength="39" lengthAdjust="spacingAndGlyphs"><tspan font-style="italic">T</tspan><tspan font-size="5.6" font-style="italic" dy="1.5">c</tspan><tspan dy="-1.5"> − </tspan><tspan font-style="italic" dy="0">T</tspan><tspan font-size="5.6" font-style="italic" dy="1.5">c0</tspan><tspan dy="-1.5">(K)</tspan></text><clipPath id="bc3"><rect x="515.3" y="200.9" width="133.1" height="83.3"/></clipPath><line x1="541.7" y1="201.9" x2="541.7" y2="284.2" stroke="#8a8a8a" stroke-width="0.6" stroke-dasharray="0.8 1"/><g clip-path="url(#bc3)" fill="none" stroke-width="1.55" stroke-linecap="round"><path d="M515.3 269.2C515.7 268.8 516.7 268.1 517.5 266.6C518.3 265.1 519.4 262.9 520.3 260.2C521.3 257.5 521.9 253.9 523.1 250.5C524.2 247 525.8 242.6 527.2 239.4C528.6 236.2 530 233.5 531.4 231.2C532.8 228.9 534.3 227 535.5 225.6C536.7 224.2 537.5 223.7 538.5 223C539.6 222.3 541.2 221.7 541.7 221.5" stroke="#3c64b4"/><path d="M541.7 221.5C542.9 220.6 546.1 217.7 548.6 216.2C551.1 214.7 553.7 213.5 556.8 212.4C559.9 211.4 562.8 210.8 567.1 210C571.4 209.2 577 208.3 582.4 207.7C587.8 207 593.7 206.5 599.3 206C605 205.5 610.6 205.2 616.2 204.9C621.9 204.5 627.9 204.2 633.1 204C638.3 203.9 645 203.8 647.4 203.8" stroke="#e4991c"/></g><rect x="515.3" y="201.9" width="132.1" height="82.3" fill="none" stroke="#9a9a9a" stroke-width="0.8"/><path d="M515.3 284.2v-2.0M515.3 201.9v2.0M520.6 284.2v-1.1M520.6 201.9v1.1M525.9 284.2v-1.1M525.9 201.9v1.1M531.2 284.2v-1.1M531.2 201.9v1.1M536.4 284.2v-1.1M536.4 201.9v1.1M541.7 284.2v-2.0M541.7 201.9v2.0M547 284.2v-1.1M547 201.9v1.1M552.3 284.2v-1.1M552.3 201.9v1.1M557.6 284.2v-1.1M557.6 201.9v1.1M562.9 284.2v-1.1M562.9 201.9v1.1M568.1 284.2v-2.0M568.1 201.9v2.0M573.4 284.2v-1.1M573.4 201.9v1.1M578.7 284.2v-1.1M578.7 201.9v1.1M584 284.2v-1.1M584 201.9v1.1M589.3 284.2v-1.1M589.3 201.9v1.1M594.6 284.2v-2.0M594.6 201.9v2.0M599.8 284.2v-1.1M599.8 201.9v1.1M605.1 284.2v-1.1M605.1 201.9v1.1M610.4 284.2v-1.1M610.4 201.9v1.1M615.7 284.2v-1.1M615.7 201.9v1.1M621 284.2v-2.0M621 201.9v2.0M626.3 284.2v-1.1M626.3 201.9v1.1M631.5 284.2v-1.1M631.5 201.9v1.1M636.8 284.2v-1.1M636.8 201.9v1.1M642.1 284.2v-1.1M642.1 201.9v1.1M647.4 284.2v-2.0M647.4 201.9v2.0M515.3 201.9h2.0M647.4 201.9h-2.0M515.3 205.2h1.1M647.4 205.2h-1.1M515.3 208.5h1.1M647.4 208.5h-1.1M515.3 211.8h1.1M647.4 211.8h-1.1M515.3 215.1h1.1M647.4 215.1h-1.1M515.3 218.4h2.0M647.4 218.4h-2.0M515.3 221.7h1.1M647.4 221.7h-1.1M515.3 224.9h1.1M647.4 224.9h-1.1M515.3 228.2h1.1M647.4 228.2h-1.1M515.3 231.5h1.1M647.4 231.5h-1.1M515.3 234.8h2.0M647.4 234.8h-2.0M515.3 238.1h1.1M647.4 238.1h-1.1M515.3 241.4h1.1M647.4 241.4h-1.1M515.3 244.7h1.1M647.4 244.7h-1.1M515.3 248h1.1M647.4 248h-1.1M515.3 251.3h2.0M647.4 251.3h-2.0M515.3 254.6h1.1M647.4 254.6h-1.1M515.3 257.9h1.1M647.4 257.9h-1.1M515.3 261.2h1.1M647.4 261.2h-1.1M515.3 264.4h1.1M647.4 264.4h-1.1M515.3 267.7h2.0M647.4 267.7h-2.0M515.3 271h1.1M647.4 271h-1.1M515.3 274.3h1.1M647.4 274.3h-1.1M515.3 277.6h1.1M647.4 277.6h-1.1M515.3 280.9h1.1M647.4 280.9h-1.1M515.3 284.2h2.0M647.4 284.2h-2.0" stroke="#444" stroke-width="0.5"/><text x="515.3" y="292.5" font-size="7.8" text-anchor="middle" >0</text><text x="541.7" y="292.5" font-size="7.8" text-anchor="middle" >1</text><text x="568.1" y="292.5" font-size="7.8" text-anchor="middle" >2</text><text x="594.6" y="292.5" font-size="7.8" text-anchor="middle" >3</text><text x="621" y="292.5" font-size="7.8" text-anchor="middle" >4</text><text x="647.4" y="292.5" font-size="7.8" text-anchor="middle" >5</text><text x="513.5" y="204.6" font-size="7.8" text-anchor="end" >0</text><text x="513.5" y="221.1" font-size="7.8" text-anchor="end" >−1</text><text x="513.5" y="237.5" font-size="7.8" text-anchor="end" >−2</text><text x="513.5" y="254" font-size="7.8" text-anchor="end" >−3</text><text x="513.5" y="270.4" font-size="7.8" text-anchor="end" >−4</text><text x="513.5" y="286.9" font-size="7.8" text-anchor="end" >−5</text><text x="524.2" y="303.6" font-size="7.6" textLength="18.6" lengthAdjust="spacingAndGlyphs"><tspan font-style="italic">R</tspan><tspan font-size="5.3" dy="1.4">1</tspan><tspan dy="-1.4">/R</tspan></text><text x="592.1" y="303.6" font-size="7.6" textLength="18.6" lengthAdjust="spacingAndGlyphs"><tspan font-style="italic">R</tspan><tspan font-size="5.3" dy="1.4">2</tspan><tspan dy="-1.4">/R</tspan></text><text x="523" y="197.9" font-size="7.2" text-anchor="middle" font-weight="bold">A</text><text x="545.6" y="197.9" font-size="7.2" text-anchor="middle" font-weight="bold">O</text><text x="641.3" y="197.9" font-size="7.2" text-anchor="middle" font-weight="bold">B</text><text transform="translate(499.6,242.5) rotate(-90)" font-size="8" text-anchor="middle" textLength="39" lengthAdjust="spacingAndGlyphs"><tspan font-style="italic">T</tspan><tspan font-size="5.6" font-style="italic" dy="1.5">c</tspan><tspan dy="-6"> − </tspan><tspan font-style="italic" dy="4.5">T</tspan><tspan font-size="5.6" font-style="italic" dy="1.5">c0</tspan><tspan dy="-1.5">(K)</tspan></text><text x="34.9" y="179.7" font-size="14.5" textLength="16.4" lengthAdjust="spacingAndGlyphs">(a)</text><text x="56.6" y="179.7" font-size="14.5" textLength="8.5" lengthAdjust="spacingAndGlyphs">λ</text><text x="69.7" y="179.7" font-size="14.5" textLength="10" lengthAdjust="spacingAndGlyphs">=</text><text x="83.6" y="179.7" font-size="14.5" textLength="6.1" lengthAdjust="spacingAndGlyphs">0</text><text x="92" y="179.7" font-size="14.5" textLength="19.3" lengthAdjust="spacingAndGlyphs">nm</text><text x="200.5" y="179.7" font-size="14.5" textLength="17.1" lengthAdjust="spacingAndGlyphs">(b)</text><text x="222.7" y="179.7" font-size="14.5" textLength="8" lengthAdjust="spacingAndGlyphs">λ</text><text x="234.7" y="179.7" font-size="14.5" textLength="9.9" lengthAdjust="spacingAndGlyphs">=</text><text x="248.7" y="179.7" font-size="14.5" textLength="13.4" lengthAdjust="spacingAndGlyphs">25</text><text x="264.3" y="179.7" font-size="14.5" textLength="19" lengthAdjust="spacingAndGlyphs">nm</text><text x="362.9" y="179.7" font-size="14.5" textLength="15.1" lengthAdjust="spacingAndGlyphs">(c)</text><text x="384.9" y="179.7" font-size="14.5" textLength="8.2" lengthAdjust="spacingAndGlyphs">λ</text><text x="394.6" y="179.7" font-size="14.5" textLength="9.6" lengthAdjust="spacingAndGlyphs">=</text><text x="408.8" y="179.7" font-size="14.5" textLength="21.5" lengthAdjust="spacingAndGlyphs">250</text><text x="432.2" y="179.7" font-size="14.5" textLength="18.9" lengthAdjust="spacingAndGlyphs">nm</text><text x="540.7" y="179.7" font-size="14.5" textLength="16.1" lengthAdjust="spacingAndGlyphs">(d)</text><text x="562.6" y="179.7" font-size="14.5" textLength="6.9" lengthAdjust="spacingAndGlyphs">λ</text><text x="574.7" y="179.7" font-size="14.5" textLength="9.2" lengthAdjust="spacingAndGlyphs">=</text><text x="589.1" y="179.7" font-size="14.5" textLength="12.7" lengthAdjust="spacingAndGlyphs">∞</text><text x="35.1" y="324.1" font-size="14.5" textLength="16.4" lengthAdjust="spacingAndGlyphs">(e)</text><text x="56.8" y="324.1" font-size="14.5" textLength="8.5" lengthAdjust="spacingAndGlyphs">λ</text><text x="69.9" y="324.1" font-size="14.5" textLength="10" lengthAdjust="spacingAndGlyphs">=</text><text x="83.8" y="324.1" font-size="14.5" textLength="6.1" lengthAdjust="spacingAndGlyphs">0</text><text x="92.2" y="324.1" font-size="14.5" textLength="19.3" lengthAdjust="spacingAndGlyphs">nm</text><text x="201.9" y="324.1" font-size="14.5" textLength="17.1" lengthAdjust="spacingAndGlyphs">(f)</text><text x="224.1" y="324.1" font-size="14.5" textLength="8" lengthAdjust="spacingAndGlyphs">λ</text><text x="236.1" y="324.1" font-size="14.5" textLength="9.9" lengthAdjust="spacingAndGlyphs">=</text><text x="250.1" y="324.1" font-size="14.5" textLength="13.4" lengthAdjust="spacingAndGlyphs">25</text><text x="265.7" y="324.1" font-size="14.5" textLength="19" lengthAdjust="spacingAndGlyphs">nm</text><text x="362.9" y="324.1" font-size="14.5" textLength="15.1" lengthAdjust="spacingAndGlyphs">(g)</text><text x="384.9" y="324.1" font-size="14.5" textLength="8.2" lengthAdjust="spacingAndGlyphs">λ</text><text x="394.6" y="324.1" font-size="14.5" textLength="9.6" lengthAdjust="spacingAndGlyphs">=</text><text x="408.8" y="324.1" font-size="14.5" textLength="21.5" lengthAdjust="spacingAndGlyphs">250</text><text x="432.2" y="324.1" font-size="14.5" textLength="18.9" lengthAdjust="spacingAndGlyphs">nm</text><text x="540.6" y="324.1" font-size="14.5" textLength="16.1" lengthAdjust="spacingAndGlyphs">(h)</text><text x="562.5" y="324.1" font-size="14.5" textLength="6.9" lengthAdjust="spacingAndGlyphs">λ</text><text x="574.6" y="324.1" font-size="14.5" textLength="9.2" lengthAdjust="spacingAndGlyphs">=</text><text x="589" y="324.1" font-size="14.5" textLength="12.7" lengthAdjust="spacingAndGlyphs">∞</text></svg></body></html>
